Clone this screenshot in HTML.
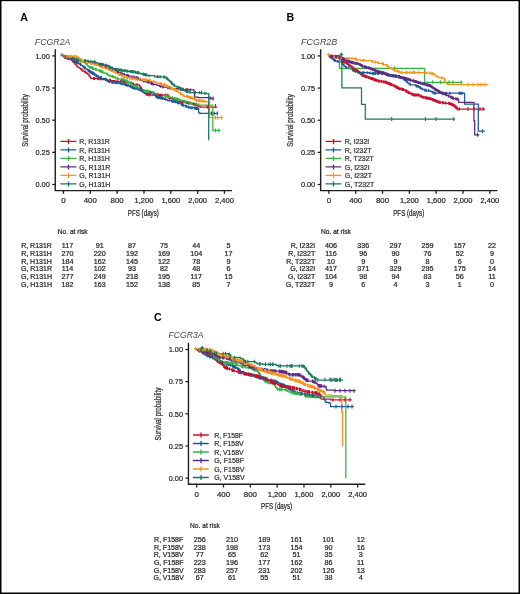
<!DOCTYPE html>
<html><head><meta charset="utf-8"><title>Survival curves</title>
<style>html,body{margin:0;padding:0;background:#fff;}svg{display:block;will-change:transform;}
text{font-family:"Liberation Sans", sans-serif;}</style></head><body>
<svg width="520" height="594" viewBox="0 0 520 594">
<g id="t" fill="#262626" stroke="none">
<rect x="0" y="0" width="520" height="594" fill="#fff"/>
<path d="M55.25 49.20V190.60H232.10" fill="none" stroke="#1e1e1e" stroke-width="1.4"/>
<path d="M52.25 184.50H55.25" stroke="#1e1e1e" stroke-width="1.25"/>
<text x="49.80" y="187.30" font-size="8.0" text-anchor="end" stroke="#262626" stroke-width="0.22" textLength="14.3" lengthAdjust="spacingAndGlyphs">0.00</text>
<path d="M52.25 152.35H55.25" stroke="#1e1e1e" stroke-width="1.25"/>
<text x="49.80" y="155.15" font-size="8.0" text-anchor="end" stroke="#262626" stroke-width="0.22" textLength="14.3" lengthAdjust="spacingAndGlyphs">0.25</text>
<path d="M52.25 120.20H55.25" stroke="#1e1e1e" stroke-width="1.25"/>
<text x="49.80" y="123.00" font-size="8.0" text-anchor="end" stroke="#262626" stroke-width="0.22" textLength="14.3" lengthAdjust="spacingAndGlyphs">0.50</text>
<path d="M52.25 88.05H55.25" stroke="#1e1e1e" stroke-width="1.25"/>
<text x="49.80" y="90.85" font-size="8.0" text-anchor="end" stroke="#262626" stroke-width="0.22" textLength="14.3" lengthAdjust="spacingAndGlyphs">0.75</text>
<path d="M52.25 55.90H55.25" stroke="#1e1e1e" stroke-width="1.25"/>
<text x="49.80" y="58.70" font-size="8.0" text-anchor="end" stroke="#262626" stroke-width="0.22" textLength="14.3" lengthAdjust="spacingAndGlyphs">1.00</text>
<path d="M63.45 190.60V193.80" stroke="#1e1e1e" stroke-width="1.3"/>
<text x="63.45" y="202.90" font-size="8.0" text-anchor="middle" stroke="#262626" stroke-width="0.22" textLength="4.4" lengthAdjust="spacingAndGlyphs">0</text>
<path d="M90.28 190.60V193.80" stroke="#1e1e1e" stroke-width="1.3"/>
<text x="90.28" y="202.90" font-size="8.0" text-anchor="middle" stroke="#262626" stroke-width="0.22" textLength="13.1" lengthAdjust="spacingAndGlyphs">400</text>
<path d="M117.12 190.60V193.80" stroke="#1e1e1e" stroke-width="1.3"/>
<text x="117.12" y="202.90" font-size="8.0" text-anchor="middle" stroke="#262626" stroke-width="0.22" textLength="13.1" lengthAdjust="spacingAndGlyphs">800</text>
<path d="M143.95 190.60V193.80" stroke="#1e1e1e" stroke-width="1.3"/>
<text x="143.95" y="202.90" font-size="8.0" text-anchor="middle" stroke="#262626" stroke-width="0.22" textLength="18.8" lengthAdjust="spacingAndGlyphs">1,200</text>
<path d="M170.78 190.60V193.80" stroke="#1e1e1e" stroke-width="1.3"/>
<text x="170.78" y="202.90" font-size="8.0" text-anchor="middle" stroke="#262626" stroke-width="0.22" textLength="18.8" lengthAdjust="spacingAndGlyphs">1,600</text>
<path d="M197.62 190.60V193.80" stroke="#1e1e1e" stroke-width="1.3"/>
<text x="197.62" y="202.90" font-size="8.0" text-anchor="middle" stroke="#262626" stroke-width="0.22" textLength="18.8" lengthAdjust="spacingAndGlyphs">2,000</text>
<path d="M224.45 190.60V193.80" stroke="#1e1e1e" stroke-width="1.3"/>
<text x="224.45" y="202.90" font-size="8.0" text-anchor="middle" stroke="#262626" stroke-width="0.22" textLength="18.8" lengthAdjust="spacingAndGlyphs">2,400</text>
<text x="20.30" y="20.90" font-size="10.6" text-anchor="start" font-weight="bold" fill="#000">A</text>
<text x="34.80" y="44.70" font-size="9.6" text-anchor="start" font-style="italic" fill="#474747" textLength="35.6" lengthAdjust="spacingAndGlyphs">FCGR2A</text>
<text x="0" y="0" stroke="#262626" stroke-width="0.22" font-size="9.4" text-anchor="middle" textLength="52.8" lengthAdjust="spacingAndGlyphs" transform="translate(28.00,120.40) rotate(-90)">Survival probability</text>
<text x="127.80" y="215.70" font-size="8.6" text-anchor="start" stroke="#262626" stroke-width="0.22" textLength="31.1" lengthAdjust="spacingAndGlyphs">PFS (days)</text>
<path d="M60.40 141.40H76.40M68.50 138.90V143.90" stroke="#c8102e" stroke-width="1.35"/>
<text x="79.20" y="144.15" font-size="7.0" text-anchor="start" stroke="#333" stroke-width="0.22" fill="#333">R, R131R</text>
<path d="M60.40 149.90H76.40M68.50 147.40V152.40" stroke="#1c5a96" stroke-width="1.35"/>
<text x="79.20" y="152.65" font-size="7.0" text-anchor="start" stroke="#333" stroke-width="0.22" fill="#333">R, R131H</text>
<path d="M60.40 158.40H76.40M68.50 155.90V160.90" stroke="#35b53f" stroke-width="1.35"/>
<text x="79.20" y="161.15" font-size="7.0" text-anchor="start" stroke="#333" stroke-width="0.22" fill="#333">R, H131H</text>
<path d="M60.40 166.90H76.40M68.50 164.40V169.40" stroke="#5e2a84" stroke-width="1.35"/>
<text x="79.20" y="169.65" font-size="7.0" text-anchor="start" stroke="#333" stroke-width="0.22" fill="#333">G, R131R</text>
<path d="M60.40 175.40H76.40M68.50 172.90V177.90" stroke="#f7941d" stroke-width="1.35"/>
<text x="79.20" y="178.15" font-size="7.0" text-anchor="start" stroke="#333" stroke-width="0.22" fill="#333">G, R131H</text>
<path d="M60.40 183.90H76.40M68.50 181.40V186.40" stroke="#177a5c" stroke-width="1.35"/>
<text x="79.20" y="186.65" font-size="7.0" text-anchor="start" stroke="#333" stroke-width="0.22" fill="#333">G, H131H</text>
<path d="M320.65 49.20V190.60H497.50" fill="none" stroke="#1e1e1e" stroke-width="1.4"/>
<path d="M317.65 184.50H320.65" stroke="#1e1e1e" stroke-width="1.25"/>
<text x="315.20" y="187.30" font-size="8.0" text-anchor="end" stroke="#262626" stroke-width="0.22" textLength="14.3" lengthAdjust="spacingAndGlyphs">0.00</text>
<path d="M317.65 152.35H320.65" stroke="#1e1e1e" stroke-width="1.25"/>
<text x="315.20" y="155.15" font-size="8.0" text-anchor="end" stroke="#262626" stroke-width="0.22" textLength="14.3" lengthAdjust="spacingAndGlyphs">0.25</text>
<path d="M317.65 120.20H320.65" stroke="#1e1e1e" stroke-width="1.25"/>
<text x="315.20" y="123.00" font-size="8.0" text-anchor="end" stroke="#262626" stroke-width="0.22" textLength="14.3" lengthAdjust="spacingAndGlyphs">0.50</text>
<path d="M317.65 88.05H320.65" stroke="#1e1e1e" stroke-width="1.25"/>
<text x="315.20" y="90.85" font-size="8.0" text-anchor="end" stroke="#262626" stroke-width="0.22" textLength="14.3" lengthAdjust="spacingAndGlyphs">0.75</text>
<path d="M317.65 55.90H320.65" stroke="#1e1e1e" stroke-width="1.25"/>
<text x="315.20" y="58.70" font-size="8.0" text-anchor="end" stroke="#262626" stroke-width="0.22" textLength="14.3" lengthAdjust="spacingAndGlyphs">1.00</text>
<path d="M328.85 190.60V193.80" stroke="#1e1e1e" stroke-width="1.3"/>
<text x="328.85" y="202.90" font-size="8.0" text-anchor="middle" stroke="#262626" stroke-width="0.22" textLength="4.4" lengthAdjust="spacingAndGlyphs">0</text>
<path d="M355.68 190.60V193.80" stroke="#1e1e1e" stroke-width="1.3"/>
<text x="355.68" y="202.90" font-size="8.0" text-anchor="middle" stroke="#262626" stroke-width="0.22" textLength="13.1" lengthAdjust="spacingAndGlyphs">400</text>
<path d="M382.52 190.60V193.80" stroke="#1e1e1e" stroke-width="1.3"/>
<text x="382.52" y="202.90" font-size="8.0" text-anchor="middle" stroke="#262626" stroke-width="0.22" textLength="13.1" lengthAdjust="spacingAndGlyphs">800</text>
<path d="M409.35 190.60V193.80" stroke="#1e1e1e" stroke-width="1.3"/>
<text x="409.35" y="202.90" font-size="8.0" text-anchor="middle" stroke="#262626" stroke-width="0.22" textLength="18.8" lengthAdjust="spacingAndGlyphs">1,200</text>
<path d="M436.18 190.60V193.80" stroke="#1e1e1e" stroke-width="1.3"/>
<text x="436.18" y="202.90" font-size="8.0" text-anchor="middle" stroke="#262626" stroke-width="0.22" textLength="18.8" lengthAdjust="spacingAndGlyphs">1,600</text>
<path d="M463.02 190.60V193.80" stroke="#1e1e1e" stroke-width="1.3"/>
<text x="463.02" y="202.90" font-size="8.0" text-anchor="middle" stroke="#262626" stroke-width="0.22" textLength="18.8" lengthAdjust="spacingAndGlyphs">2,000</text>
<path d="M489.85 190.60V193.80" stroke="#1e1e1e" stroke-width="1.3"/>
<text x="489.85" y="202.90" font-size="8.0" text-anchor="middle" stroke="#262626" stroke-width="0.22" textLength="18.8" lengthAdjust="spacingAndGlyphs">2,400</text>
<text x="286.60" y="20.80" font-size="10.6" text-anchor="start" font-weight="bold" fill="#000">B</text>
<text x="301.00" y="44.70" font-size="9.6" text-anchor="start" font-style="italic" fill="#474747" textLength="36.3" lengthAdjust="spacingAndGlyphs">FCGR2B</text>
<text x="0" y="0" stroke="#262626" stroke-width="0.22" font-size="9.4" text-anchor="middle" textLength="52.8" lengthAdjust="spacingAndGlyphs" transform="translate(293.40,120.40) rotate(-90)">Survival probability</text>
<text x="393.20" y="215.70" font-size="8.6" text-anchor="start" stroke="#262626" stroke-width="0.22" textLength="31.1" lengthAdjust="spacingAndGlyphs">PFS (days)</text>
<path d="M325.50 141.40H341.30M333.50 138.90V143.90" stroke="#c8102e" stroke-width="1.35"/>
<text x="344.80" y="144.15" font-size="7.0" text-anchor="start" stroke="#333" stroke-width="0.22" fill="#333">R, I232I</text>
<path d="M325.50 149.90H341.30M333.50 147.40V152.40" stroke="#1c5a96" stroke-width="1.35"/>
<text x="344.80" y="152.65" font-size="7.0" text-anchor="start" stroke="#333" stroke-width="0.22" fill="#333">R, I232T</text>
<path d="M325.50 158.40H341.30M333.50 155.90V160.90" stroke="#35b53f" stroke-width="1.35"/>
<text x="344.80" y="161.15" font-size="7.0" text-anchor="start" stroke="#333" stroke-width="0.22" fill="#333">R, T232T</text>
<path d="M325.50 166.90H341.30M333.50 164.40V169.40" stroke="#5e2a84" stroke-width="1.35"/>
<text x="344.80" y="169.65" font-size="7.0" text-anchor="start" stroke="#333" stroke-width="0.22" fill="#333">G, I232I</text>
<path d="M325.50 175.40H341.30M333.50 172.90V177.90" stroke="#f7941d" stroke-width="1.35"/>
<text x="344.80" y="178.15" font-size="7.0" text-anchor="start" stroke="#333" stroke-width="0.22" fill="#333">G, I232T</text>
<path d="M325.50 183.90H341.30M333.50 181.40V186.40" stroke="#177a5c" stroke-width="1.35"/>
<text x="344.80" y="186.65" font-size="7.0" text-anchor="start" stroke="#333" stroke-width="0.22" fill="#333">G, T232T</text>
<path d="M188.45 342.80V484.20H365.30" fill="none" stroke="#1e1e1e" stroke-width="1.4"/>
<path d="M185.45 478.10H188.45" stroke="#1e1e1e" stroke-width="1.25"/>
<text x="183.00" y="480.90" font-size="8.0" text-anchor="end" stroke="#262626" stroke-width="0.22" textLength="14.3" lengthAdjust="spacingAndGlyphs">0.00</text>
<path d="M185.45 445.95H188.45" stroke="#1e1e1e" stroke-width="1.25"/>
<text x="183.00" y="448.75" font-size="8.0" text-anchor="end" stroke="#262626" stroke-width="0.22" textLength="14.3" lengthAdjust="spacingAndGlyphs">0.25</text>
<path d="M185.45 413.80H188.45" stroke="#1e1e1e" stroke-width="1.25"/>
<text x="183.00" y="416.60" font-size="8.0" text-anchor="end" stroke="#262626" stroke-width="0.22" textLength="14.3" lengthAdjust="spacingAndGlyphs">0.50</text>
<path d="M185.45 381.65H188.45" stroke="#1e1e1e" stroke-width="1.25"/>
<text x="183.00" y="384.45" font-size="8.0" text-anchor="end" stroke="#262626" stroke-width="0.22" textLength="14.3" lengthAdjust="spacingAndGlyphs">0.75</text>
<path d="M185.45 349.50H188.45" stroke="#1e1e1e" stroke-width="1.25"/>
<text x="183.00" y="352.30" font-size="8.0" text-anchor="end" stroke="#262626" stroke-width="0.22" textLength="14.3" lengthAdjust="spacingAndGlyphs">1.00</text>
<path d="M196.65 484.20V487.40" stroke="#1e1e1e" stroke-width="1.3"/>
<text x="196.65" y="496.50" font-size="8.0" text-anchor="middle" stroke="#262626" stroke-width="0.22" textLength="4.4" lengthAdjust="spacingAndGlyphs">0</text>
<path d="M223.48 484.20V487.40" stroke="#1e1e1e" stroke-width="1.3"/>
<text x="223.48" y="496.50" font-size="8.0" text-anchor="middle" stroke="#262626" stroke-width="0.22" textLength="13.1" lengthAdjust="spacingAndGlyphs">400</text>
<path d="M250.32 484.20V487.40" stroke="#1e1e1e" stroke-width="1.3"/>
<text x="250.32" y="496.50" font-size="8.0" text-anchor="middle" stroke="#262626" stroke-width="0.22" textLength="13.1" lengthAdjust="spacingAndGlyphs">800</text>
<path d="M277.15 484.20V487.40" stroke="#1e1e1e" stroke-width="1.3"/>
<text x="277.15" y="496.50" font-size="8.0" text-anchor="middle" stroke="#262626" stroke-width="0.22" textLength="18.8" lengthAdjust="spacingAndGlyphs">1,200</text>
<path d="M303.98 484.20V487.40" stroke="#1e1e1e" stroke-width="1.3"/>
<text x="303.98" y="496.50" font-size="8.0" text-anchor="middle" stroke="#262626" stroke-width="0.22" textLength="18.8" lengthAdjust="spacingAndGlyphs">1,600</text>
<path d="M330.82 484.20V487.40" stroke="#1e1e1e" stroke-width="1.3"/>
<text x="330.82" y="496.50" font-size="8.0" text-anchor="middle" stroke="#262626" stroke-width="0.22" textLength="18.8" lengthAdjust="spacingAndGlyphs">2,000</text>
<path d="M357.65 484.20V487.40" stroke="#1e1e1e" stroke-width="1.3"/>
<text x="357.65" y="496.50" font-size="8.0" text-anchor="middle" stroke="#262626" stroke-width="0.22" textLength="18.8" lengthAdjust="spacingAndGlyphs">2,400</text>
<text x="154.00" y="321.30" font-size="10.6" text-anchor="start" font-weight="bold" fill="#000">C</text>
<text x="168.60" y="338.30" font-size="9.6" text-anchor="start" font-style="italic" fill="#474747" textLength="34.9" lengthAdjust="spacingAndGlyphs">FCGR3A</text>
<text x="0" y="0" stroke="#262626" stroke-width="0.22" font-size="9.4" text-anchor="middle" textLength="52.8" lengthAdjust="spacingAndGlyphs" transform="translate(161.20,414.00) rotate(-90)">Survival probability</text>
<text x="261.00" y="509.30" font-size="8.6" text-anchor="start" stroke="#262626" stroke-width="0.22" textLength="31.1" lengthAdjust="spacingAndGlyphs">PFS (days)</text>
<path d="M192.90 435.00H208.80M201.00 432.50V437.50" stroke="#c8102e" stroke-width="1.35"/>
<text x="214.30" y="437.75" font-size="7.0" text-anchor="start" stroke="#333" stroke-width="0.22" fill="#333" textLength="28.8" lengthAdjust="spacingAndGlyphs">R, F158F</text>
<path d="M192.90 443.50H208.80M201.00 441.00V446.00" stroke="#1c5a96" stroke-width="1.35"/>
<text x="214.30" y="446.25" font-size="7.0" text-anchor="start" stroke="#333" stroke-width="0.22" fill="#333" textLength="29.4" lengthAdjust="spacingAndGlyphs">R, F158V</text>
<path d="M192.90 452.00H208.80M201.00 449.50V454.50" stroke="#35b53f" stroke-width="1.35"/>
<text x="214.30" y="454.75" font-size="7.0" text-anchor="start" stroke="#333" stroke-width="0.22" fill="#333" textLength="29.3" lengthAdjust="spacingAndGlyphs">R, V158V</text>
<path d="M192.90 460.50H208.80M201.00 458.00V463.00" stroke="#5e2a84" stroke-width="1.35"/>
<text x="214.30" y="463.25" font-size="7.0" text-anchor="start" stroke="#333" stroke-width="0.22" fill="#333" textLength="29.8" lengthAdjust="spacingAndGlyphs">G, F158F</text>
<path d="M192.90 469.00H208.80M201.00 466.50V471.50" stroke="#f7941d" stroke-width="1.35"/>
<text x="214.30" y="471.75" font-size="7.0" text-anchor="start" stroke="#333" stroke-width="0.22" fill="#333" textLength="30.1" lengthAdjust="spacingAndGlyphs">G, F158V</text>
<path d="M192.90 477.50H208.80M201.00 475.00V480.00" stroke="#177a5c" stroke-width="1.35"/>
<text x="214.30" y="480.25" font-size="7.0" text-anchor="start" stroke="#333" stroke-width="0.22" fill="#333" textLength="30.3" lengthAdjust="spacingAndGlyphs">G, V158V</text>
<text x="57.80" y="234.20" font-size="7.0" text-anchor="start" stroke="#262626" stroke-width="0.22" textLength="29.8" lengthAdjust="spacingAndGlyphs">No. at risk</text>
<text x="36.50" y="248.40" font-size="7.0" text-anchor="middle" stroke="#262626" stroke-width="0.22">R, R131R</text>
<text x="67.50" y="248.40" font-size="7.2" text-anchor="middle" stroke="#262626" stroke-width="0.22">117</text>
<text x="99.70" y="248.40" font-size="7.2" text-anchor="middle" stroke="#262626" stroke-width="0.22">91</text>
<text x="131.90" y="248.40" font-size="7.2" text-anchor="middle" stroke="#262626" stroke-width="0.22">87</text>
<text x="164.10" y="248.40" font-size="7.2" text-anchor="middle" stroke="#262626" stroke-width="0.22">75</text>
<text x="196.30" y="248.40" font-size="7.2" text-anchor="middle" stroke="#262626" stroke-width="0.22">44</text>
<text x="228.50" y="248.40" font-size="7.2" text-anchor="middle" stroke="#262626" stroke-width="0.22">5</text>
<text x="36.50" y="256.06" font-size="7.0" text-anchor="middle" stroke="#262626" stroke-width="0.22">R, R131H</text>
<text x="67.50" y="256.06" font-size="7.2" text-anchor="middle" stroke="#262626" stroke-width="0.22">270</text>
<text x="99.70" y="256.06" font-size="7.2" text-anchor="middle" stroke="#262626" stroke-width="0.22">220</text>
<text x="131.90" y="256.06" font-size="7.2" text-anchor="middle" stroke="#262626" stroke-width="0.22">192</text>
<text x="164.10" y="256.06" font-size="7.2" text-anchor="middle" stroke="#262626" stroke-width="0.22">169</text>
<text x="196.30" y="256.06" font-size="7.2" text-anchor="middle" stroke="#262626" stroke-width="0.22">104</text>
<text x="228.50" y="256.06" font-size="7.2" text-anchor="middle" stroke="#262626" stroke-width="0.22">17</text>
<text x="36.50" y="263.72" font-size="7.0" text-anchor="middle" stroke="#262626" stroke-width="0.22">R, H131H</text>
<text x="67.50" y="263.72" font-size="7.2" text-anchor="middle" stroke="#262626" stroke-width="0.22">184</text>
<text x="99.70" y="263.72" font-size="7.2" text-anchor="middle" stroke="#262626" stroke-width="0.22">162</text>
<text x="131.90" y="263.72" font-size="7.2" text-anchor="middle" stroke="#262626" stroke-width="0.22">145</text>
<text x="164.10" y="263.72" font-size="7.2" text-anchor="middle" stroke="#262626" stroke-width="0.22">122</text>
<text x="196.30" y="263.72" font-size="7.2" text-anchor="middle" stroke="#262626" stroke-width="0.22">78</text>
<text x="228.50" y="263.72" font-size="7.2" text-anchor="middle" stroke="#262626" stroke-width="0.22">9</text>
<text x="36.50" y="271.38" font-size="7.0" text-anchor="middle" stroke="#262626" stroke-width="0.22">G, R131R</text>
<text x="67.50" y="271.38" font-size="7.2" text-anchor="middle" stroke="#262626" stroke-width="0.22">114</text>
<text x="99.70" y="271.38" font-size="7.2" text-anchor="middle" stroke="#262626" stroke-width="0.22">102</text>
<text x="131.90" y="271.38" font-size="7.2" text-anchor="middle" stroke="#262626" stroke-width="0.22">93</text>
<text x="164.10" y="271.38" font-size="7.2" text-anchor="middle" stroke="#262626" stroke-width="0.22">82</text>
<text x="196.30" y="271.38" font-size="7.2" text-anchor="middle" stroke="#262626" stroke-width="0.22">48</text>
<text x="228.50" y="271.38" font-size="7.2" text-anchor="middle" stroke="#262626" stroke-width="0.22">6</text>
<text x="36.50" y="279.04" font-size="7.0" text-anchor="middle" stroke="#262626" stroke-width="0.22">G, R131H</text>
<text x="67.50" y="279.04" font-size="7.2" text-anchor="middle" stroke="#262626" stroke-width="0.22">277</text>
<text x="99.70" y="279.04" font-size="7.2" text-anchor="middle" stroke="#262626" stroke-width="0.22">249</text>
<text x="131.90" y="279.04" font-size="7.2" text-anchor="middle" stroke="#262626" stroke-width="0.22">218</text>
<text x="164.10" y="279.04" font-size="7.2" text-anchor="middle" stroke="#262626" stroke-width="0.22">195</text>
<text x="196.30" y="279.04" font-size="7.2" text-anchor="middle" stroke="#262626" stroke-width="0.22">117</text>
<text x="228.50" y="279.04" font-size="7.2" text-anchor="middle" stroke="#262626" stroke-width="0.22">15</text>
<text x="36.50" y="286.70" font-size="7.0" text-anchor="middle" stroke="#262626" stroke-width="0.22">G, H131H</text>
<text x="67.50" y="286.70" font-size="7.2" text-anchor="middle" stroke="#262626" stroke-width="0.22">182</text>
<text x="99.70" y="286.70" font-size="7.2" text-anchor="middle" stroke="#262626" stroke-width="0.22">163</text>
<text x="131.90" y="286.70" font-size="7.2" text-anchor="middle" stroke="#262626" stroke-width="0.22">152</text>
<text x="164.10" y="286.70" font-size="7.2" text-anchor="middle" stroke="#262626" stroke-width="0.22">138</text>
<text x="196.30" y="286.70" font-size="7.2" text-anchor="middle" stroke="#262626" stroke-width="0.22">85</text>
<text x="228.50" y="286.70" font-size="7.2" text-anchor="middle" stroke="#262626" stroke-width="0.22">7</text>
<text x="321.00" y="234.20" font-size="7.0" text-anchor="start" stroke="#262626" stroke-width="0.22" textLength="29.8" lengthAdjust="spacingAndGlyphs">No. at risk</text>
<text x="315.20" y="248.40" font-size="7.0" text-anchor="end" stroke="#262626" stroke-width="0.22">R, I232I</text>
<text x="331.00" y="248.40" font-size="7.2" text-anchor="middle" stroke="#262626" stroke-width="0.22">406</text>
<text x="363.20" y="248.40" font-size="7.2" text-anchor="middle" stroke="#262626" stroke-width="0.22">336</text>
<text x="395.40" y="248.40" font-size="7.2" text-anchor="middle" stroke="#262626" stroke-width="0.22">297</text>
<text x="427.60" y="248.40" font-size="7.2" text-anchor="middle" stroke="#262626" stroke-width="0.22">259</text>
<text x="459.80" y="248.40" font-size="7.2" text-anchor="middle" stroke="#262626" stroke-width="0.22">157</text>
<text x="492.00" y="248.40" font-size="7.2" text-anchor="middle" stroke="#262626" stroke-width="0.22">22</text>
<text x="315.20" y="256.06" font-size="7.0" text-anchor="end" stroke="#262626" stroke-width="0.22">R, I232T</text>
<text x="331.00" y="256.06" font-size="7.2" text-anchor="middle" stroke="#262626" stroke-width="0.22">116</text>
<text x="363.20" y="256.06" font-size="7.2" text-anchor="middle" stroke="#262626" stroke-width="0.22">96</text>
<text x="395.40" y="256.06" font-size="7.2" text-anchor="middle" stroke="#262626" stroke-width="0.22">90</text>
<text x="427.60" y="256.06" font-size="7.2" text-anchor="middle" stroke="#262626" stroke-width="0.22">76</text>
<text x="459.80" y="256.06" font-size="7.2" text-anchor="middle" stroke="#262626" stroke-width="0.22">52</text>
<text x="492.00" y="256.06" font-size="7.2" text-anchor="middle" stroke="#262626" stroke-width="0.22">9</text>
<text x="315.20" y="263.72" font-size="7.0" text-anchor="end" stroke="#262626" stroke-width="0.22">R, T232T</text>
<text x="331.00" y="263.72" font-size="7.2" text-anchor="middle" stroke="#262626" stroke-width="0.22">10</text>
<text x="363.20" y="263.72" font-size="7.2" text-anchor="middle" stroke="#262626" stroke-width="0.22">9</text>
<text x="395.40" y="263.72" font-size="7.2" text-anchor="middle" stroke="#262626" stroke-width="0.22">9</text>
<text x="427.60" y="263.72" font-size="7.2" text-anchor="middle" stroke="#262626" stroke-width="0.22">8</text>
<text x="459.80" y="263.72" font-size="7.2" text-anchor="middle" stroke="#262626" stroke-width="0.22">6</text>
<text x="492.00" y="263.72" font-size="7.2" text-anchor="middle" stroke="#262626" stroke-width="0.22">0</text>
<text x="315.20" y="271.38" font-size="7.0" text-anchor="end" stroke="#262626" stroke-width="0.22">G, I232I</text>
<text x="331.00" y="271.38" font-size="7.2" text-anchor="middle" stroke="#262626" stroke-width="0.22">417</text>
<text x="363.20" y="271.38" font-size="7.2" text-anchor="middle" stroke="#262626" stroke-width="0.22">371</text>
<text x="395.40" y="271.38" font-size="7.2" text-anchor="middle" stroke="#262626" stroke-width="0.22">329</text>
<text x="427.60" y="271.38" font-size="7.2" text-anchor="middle" stroke="#262626" stroke-width="0.22">295</text>
<text x="459.80" y="271.38" font-size="7.2" text-anchor="middle" stroke="#262626" stroke-width="0.22">175</text>
<text x="492.00" y="271.38" font-size="7.2" text-anchor="middle" stroke="#262626" stroke-width="0.22">14</text>
<text x="315.20" y="279.04" font-size="7.0" text-anchor="end" stroke="#262626" stroke-width="0.22">G, I232T</text>
<text x="331.00" y="279.04" font-size="7.2" text-anchor="middle" stroke="#262626" stroke-width="0.22">104</text>
<text x="363.20" y="279.04" font-size="7.2" text-anchor="middle" stroke="#262626" stroke-width="0.22">98</text>
<text x="395.40" y="279.04" font-size="7.2" text-anchor="middle" stroke="#262626" stroke-width="0.22">94</text>
<text x="427.60" y="279.04" font-size="7.2" text-anchor="middle" stroke="#262626" stroke-width="0.22">83</text>
<text x="459.80" y="279.04" font-size="7.2" text-anchor="middle" stroke="#262626" stroke-width="0.22">56</text>
<text x="492.00" y="279.04" font-size="7.2" text-anchor="middle" stroke="#262626" stroke-width="0.22">11</text>
<text x="315.20" y="286.70" font-size="7.0" text-anchor="end" stroke="#262626" stroke-width="0.22">G, T232T</text>
<text x="331.00" y="286.70" font-size="7.2" text-anchor="middle" stroke="#262626" stroke-width="0.22">9</text>
<text x="363.20" y="286.70" font-size="7.2" text-anchor="middle" stroke="#262626" stroke-width="0.22">6</text>
<text x="395.40" y="286.70" font-size="7.2" text-anchor="middle" stroke="#262626" stroke-width="0.22">4</text>
<text x="427.60" y="286.70" font-size="7.2" text-anchor="middle" stroke="#262626" stroke-width="0.22">3</text>
<text x="459.80" y="286.70" font-size="7.2" text-anchor="middle" stroke="#262626" stroke-width="0.22">1</text>
<text x="492.00" y="286.70" font-size="7.2" text-anchor="middle" stroke="#262626" stroke-width="0.22">0</text>
<text x="190.10" y="527.80" font-size="7.0" text-anchor="start" stroke="#262626" stroke-width="0.22" textLength="29.8" lengthAdjust="spacingAndGlyphs">No. at risk</text>
<text x="168.70" y="542.00" font-size="7.0" text-anchor="middle" stroke="#262626" stroke-width="0.22">R, F158F</text>
<text x="199.80" y="542.00" font-size="7.2" text-anchor="middle" stroke="#262626" stroke-width="0.22">256</text>
<text x="232.00" y="542.00" font-size="7.2" text-anchor="middle" stroke="#262626" stroke-width="0.22">210</text>
<text x="264.20" y="542.00" font-size="7.2" text-anchor="middle" stroke="#262626" stroke-width="0.22">189</text>
<text x="296.40" y="542.00" font-size="7.2" text-anchor="middle" stroke="#262626" stroke-width="0.22">161</text>
<text x="328.60" y="542.00" font-size="7.2" text-anchor="middle" stroke="#262626" stroke-width="0.22">101</text>
<text x="360.80" y="542.00" font-size="7.2" text-anchor="middle" stroke="#262626" stroke-width="0.22">12</text>
<text x="168.70" y="549.66" font-size="7.0" text-anchor="middle" stroke="#262626" stroke-width="0.22">R, F158V</text>
<text x="199.80" y="549.66" font-size="7.2" text-anchor="middle" stroke="#262626" stroke-width="0.22">238</text>
<text x="232.00" y="549.66" font-size="7.2" text-anchor="middle" stroke="#262626" stroke-width="0.22">198</text>
<text x="264.20" y="549.66" font-size="7.2" text-anchor="middle" stroke="#262626" stroke-width="0.22">173</text>
<text x="296.40" y="549.66" font-size="7.2" text-anchor="middle" stroke="#262626" stroke-width="0.22">154</text>
<text x="328.60" y="549.66" font-size="7.2" text-anchor="middle" stroke="#262626" stroke-width="0.22">90</text>
<text x="360.80" y="549.66" font-size="7.2" text-anchor="middle" stroke="#262626" stroke-width="0.22">16</text>
<text x="168.70" y="557.32" font-size="7.0" text-anchor="middle" stroke="#262626" stroke-width="0.22">R, V158V</text>
<text x="199.80" y="557.32" font-size="7.2" text-anchor="middle" stroke="#262626" stroke-width="0.22">77</text>
<text x="232.00" y="557.32" font-size="7.2" text-anchor="middle" stroke="#262626" stroke-width="0.22">65</text>
<text x="264.20" y="557.32" font-size="7.2" text-anchor="middle" stroke="#262626" stroke-width="0.22">62</text>
<text x="296.40" y="557.32" font-size="7.2" text-anchor="middle" stroke="#262626" stroke-width="0.22">51</text>
<text x="328.60" y="557.32" font-size="7.2" text-anchor="middle" stroke="#262626" stroke-width="0.22">35</text>
<text x="360.80" y="557.32" font-size="7.2" text-anchor="middle" stroke="#262626" stroke-width="0.22">3</text>
<text x="168.70" y="564.98" font-size="7.0" text-anchor="middle" stroke="#262626" stroke-width="0.22">G, F158F</text>
<text x="199.80" y="564.98" font-size="7.2" text-anchor="middle" stroke="#262626" stroke-width="0.22">223</text>
<text x="232.00" y="564.98" font-size="7.2" text-anchor="middle" stroke="#262626" stroke-width="0.22">196</text>
<text x="264.20" y="564.98" font-size="7.2" text-anchor="middle" stroke="#262626" stroke-width="0.22">177</text>
<text x="296.40" y="564.98" font-size="7.2" text-anchor="middle" stroke="#262626" stroke-width="0.22">162</text>
<text x="328.60" y="564.98" font-size="7.2" text-anchor="middle" stroke="#262626" stroke-width="0.22">86</text>
<text x="360.80" y="564.98" font-size="7.2" text-anchor="middle" stroke="#262626" stroke-width="0.22">11</text>
<text x="168.70" y="572.64" font-size="7.0" text-anchor="middle" stroke="#262626" stroke-width="0.22">G, F158V</text>
<text x="199.80" y="572.64" font-size="7.2" text-anchor="middle" stroke="#262626" stroke-width="0.22">283</text>
<text x="232.00" y="572.64" font-size="7.2" text-anchor="middle" stroke="#262626" stroke-width="0.22">257</text>
<text x="264.20" y="572.64" font-size="7.2" text-anchor="middle" stroke="#262626" stroke-width="0.22">231</text>
<text x="296.40" y="572.64" font-size="7.2" text-anchor="middle" stroke="#262626" stroke-width="0.22">202</text>
<text x="328.60" y="572.64" font-size="7.2" text-anchor="middle" stroke="#262626" stroke-width="0.22">126</text>
<text x="360.80" y="572.64" font-size="7.2" text-anchor="middle" stroke="#262626" stroke-width="0.22">13</text>
<text x="168.70" y="580.30" font-size="7.0" text-anchor="middle" stroke="#262626" stroke-width="0.22">G, V158V</text>
<text x="199.80" y="580.30" font-size="7.2" text-anchor="middle" stroke="#262626" stroke-width="0.22">67</text>
<text x="232.00" y="580.30" font-size="7.2" text-anchor="middle" stroke="#262626" stroke-width="0.22">61</text>
<text x="264.20" y="580.30" font-size="7.2" text-anchor="middle" stroke="#262626" stroke-width="0.22">55</text>
<text x="296.40" y="580.30" font-size="7.2" text-anchor="middle" stroke="#262626" stroke-width="0.22">51</text>
<text x="328.60" y="580.30" font-size="7.2" text-anchor="middle" stroke="#262626" stroke-width="0.22">38</text>
<text x="360.80" y="580.30" font-size="7.2" text-anchor="middle" stroke="#262626" stroke-width="0.22">4</text>
<path d="M63.40 56.20H63.83V57.20H64.50H65.37V58.20H67.50H69.74V59.10H71.30H71.48V59.95H72.40V60.80H73.05V61.65H73.65V62.50H74.20H74.58V63.45H75.12V64.40H75.70H76.14V65.35H76.88V66.30H77.60H77.89V67.27H79.25V68.23H80.66V69.20H81.00H81.38V70.20H82.87V71.20H83.80H84.55V72.00H86.10V72.80H87.11V73.60H87.70H87.96V74.42H88.77V75.25H89.04V76.08H89.93V76.90H90.10H90.60V78.40H93.50H96.30H97.76V78.80H100.20H101.80V79.50H105.80H107.34V80.50H111.50H114.77V81.50H120.00H124.00V82.00H125.80H126.97V82.50H129.60H130.92V83.45H133.40V84.40H134.40H136.43V84.90H139.20H139.46V85.70H139.82V86.50H140.32V87.30H140.70H140.86V88.26H141.47V89.22H141.88V90.18H142.33V91.14H142.88V92.10H143.10H143.70V92.90H144.85V93.70H146.49V94.50H146.90H149.87V95.20H151.70H156.50H163.30H168.10H168.20V96.03H168.56V96.87H168.85V97.70H169.00H170.76V98.65H172.97V99.60H174.75V100.55H178.19V101.50H178.70H180.76V102.50H186.30H188.51V103.50H191.20H193.69V104.40H195.00H195.67V105.50H198.43V106.60H199.60H200.47V107.10H203.50H210.00H217.00" fill="none" stroke="#c8102e" stroke-width="1.25"/>
<path d="M63.40 56.20H64.96V57.00H66.00H67.38V57.87H69.24V58.73H71.72V59.60H72.30H72.86V60.55H74.64V61.50H75.20H76.26V62.50H78.14V63.50H79.00H79.62V64.43H81.22V65.37H82.60V66.30H82.90H83.51V67.27H84.92V68.23H85.73V69.20H86.70H87.51V70.17H88.76V71.13H90.33V72.10H90.60H91.92V73.05H93.20V74.00H94.40H94.82V74.80H95.95V75.60H96.54V76.40H97.30H98.68V77.40H100.20H101.58V78.60H104.80H105.12V79.42H106.28V80.25H107.99V81.08H108.73V81.90H109.60H112.95V82.90H119.20H120.42V83.65H124.02V84.40H124.80H125.40V85.15H128.33V85.90H129.60H130.45V86.70H132.37V87.50H133.91V88.30H134.40H137.85V89.20H139.20H139.79V90.00H141.52V90.80H143.06V91.60H144.00H147.51V92.60H148.80H151.70H152.82V93.30H153.57V94.00H154.60H154.79V94.97H155.45V95.93H156.08V96.90H156.50H158.17V97.65H161.78V98.40H163.30H164.50V99.45H167.33V100.50H170.00H171.74V101.50H175.47V102.50H177.70H178.74V103.47H181.13V104.43H182.75V105.40H183.50H185.21V106.50H188.76V107.60H190.20H195.35V108.60H198.70H198.70V112.90H200.02V113.40H204.40H218.10" fill="none" stroke="#1c5a96" stroke-width="1.25"/>
<path d="M63.40 56.20H65.59V57.03H68.35V57.87H71.48V58.70H72.30H74.27V59.65H76.46V60.60H78.10H80.21V61.50H82.90H83.23V62.30H84.90V63.10H85.73V63.90H86.70H86.86V64.87H87.58V65.83H88.23V66.80H88.70H89.67V67.55H91.66V68.30H93.50H93.98V69.25H96.60V70.20H98.30H99.02V71.25H102.20V72.30H103.80H104.11V73.15H106.30V74.00H107.52V74.85H108.57V75.70H109.60H110.44V76.40H112.98V77.10H114.40H115.57V78.10H117.97V79.10H120.00H123.40V80.10H124.80H126.07V80.90H127.17V81.70H128.78V82.50H129.60H130.00V83.47H131.62V84.43H133.45V85.40H134.40H134.97V86.37H137.12V87.33H138.07V88.30H139.20H139.54V89.10H142.03V89.90H143.23V90.70H144.00H145.96V91.90H150.80H152.30V92.85H154.27V93.80H156.50H158.00V94.55H161.68V95.30H162.30H164.71V96.00H167.72V96.70H169.00H169.86V97.45H172.41V98.20H173.80H174.54V98.90H177.87V99.60H178.70H179.95V100.30H182.70V101.00H183.50H184.45V101.75H186.70V102.50H188.30H190.53V103.35H194.12V104.20H194.80H198.22V105.20H199.60H212.80H212.80V130.40H220.40" fill="none" stroke="#35b53f" stroke-width="1.25"/>
<path d="M63.40 56.20H64.22V56.70H64.60H66.91V57.70H70.11V58.70H71.30H72.16V59.63H75.18V60.57H77.49V61.50H79.00H86.70H88.18V62.00H93.50H94.02V62.95H96.78V63.90H98.30H100.00H102.38V65.10H106.70H107.68V65.90H109.54V66.70H110.65V67.50H111.50H112.48V68.33H113.80V69.17H115.06V70.00H115.89V70.83H117.06V71.67H118.35V72.50H119.20H119.79V73.27H121.67V74.03H124.01V74.80H124.80H126.58V75.50H128.89V76.20H129.60H131.94V77.20H134.40H135.82V77.95H138.43V78.70H139.20H139.60V79.50H141.75V80.30H143.59V81.10H144.00H147.21V82.00H148.80H149.86V82.80H151.23V83.60H152.57V84.40H153.70H156.93V85.40H158.50H159.46V86.25H162.53V87.10H163.30H167.88V87.80H171.71V88.50H175.00H180.42V89.80H187.30H193.80H193.90V90.70H194.00V91.60H194.09V92.50H194.21V93.40H194.34V94.30H194.52V95.20H194.64V96.10H194.71V97.00H194.80H198.14V97.50H199.60H210.95V98.50H214.00" fill="none" stroke="#5e2a84" stroke-width="1.25"/>
<path d="M63.40 56.20H63.70H68.50H75.20H76.15V57.10H77.46V57.90H79.25V58.70H80.00H80.27V59.63H81.17V60.57H82.69V61.50H82.90H85.73V62.50H87.70H89.20V63.20H92.80V63.90H93.50H94.60V64.65H97.64V65.40H98.30H99.48V66.50H100.00H100.95V67.25H103.92V68.00H105.80H106.51V68.80H108.35V69.60H110.65V70.40H111.50H112.07V71.20H113.82V72.00H115.15V72.80H116.30H117.47V73.60H118.51V74.40H120.18V75.20H121.00H122.08V76.00H124.43V76.80H125.82V77.60H126.90H130.50V78.60H131.70H135.11V79.50H138.50H143.85V80.00H148.80H150.06V81.00H151.77V82.00H153.70H155.93V83.30H158.50H160.27V84.50H164.20H164.49V85.35H166.64V86.20H167.10H167.69V87.15H169.99V88.10H171.00H172.52V89.05H174.68V90.00H175.80H176.30V90.97H177.71V91.93H179.01V92.90H179.60H180.47V93.77H181.24V94.63H182.90V95.50H183.50H184.34V96.25H186.78V97.00H188.30H190.12V97.75H192.44V98.50H193.80H194.34V99.45H195.46V100.40H195.80H202.23V101.30H204.40H206.82V101.80H209.60H209.60V117.70H223.00" fill="none" stroke="#f7941d" stroke-width="1.25"/>
<path d="M63.40 56.20H65.93V57.20H70.09V58.20H72.30H74.09V59.00H78.01V59.80H81.03V60.60H82.90H88.41V61.50H93.50H94.67V62.50H97.74V63.50H98.30H99.35V64.60H100.00H101.86V65.40H104.53V66.20H106.05V67.00H107.70H108.99V67.95H111.94V68.90H112.50H117.78V70.00H120.00H121.35V70.70H126.11V71.40H129.60H131.83V71.90H134.40H135.57V72.90H139.20H140.03V73.60H142.19V74.30H144.00H146.89V75.60H148.80H154.63V76.80H157.50H165.20H165.91V77.80H166.45V78.60H167.74V79.40H168.10H168.68V80.37H169.34V81.33H170.74V82.30H171.00H171.73V83.27H172.24V84.23H173.59V85.20H173.80H174.52V86.00H176.24V86.80H178.36V87.60H178.70H179.82V88.40H180.78V89.20H182.63V90.00H183.50H184.47V90.95H186.17V91.90H187.30H189.74V92.50H195.00H199.60H200.34V93.20H201.50H206.06V93.70H208.70H208.70V138.50" fill="none" stroke="#177a5c" stroke-width="1.25"/>
<path d="M64.94 55.85v3.0M66.74 56.45v3.0M68.03 56.83v3.0M68.07 56.83v3.0M68.96 57.05v3.0M71.14 57.56v3.0M72.73 59.28v3.0M72.88 59.45v3.0M82.23 68.58v3.0M85.68 70.85v3.0M93.60 76.90v3.0M93.84 76.90v3.0M94.53 76.90v3.0M94.62 76.90v3.0M97.97 77.07v3.0M98.68 77.14v3.0M98.98 77.18v3.0M100.20 77.30v3.0M105.59 77.97v3.0M109.39 78.63v3.0M110.05 78.75v3.0M110.41 78.81v3.0M116.00 79.53v3.0M117.88 79.75v3.0M120.56 80.05v3.0M120.77 80.07v3.0M120.90 80.08v3.0M123.49 80.30v3.0M124.72 80.41v3.0M124.89 80.42v3.0M131.08 81.58v3.0M133.31 82.47v3.0M136.91 83.16v3.0M137.10 83.18v3.0M141.41 87.23v3.0M141.57 87.53v3.0M145.98 92.42v3.0M147.32 93.06v3.0M148.24 93.20v3.0M150.03 93.46v3.0M155.84 93.70v3.0M156.53 93.70v3.0M156.84 93.70v3.0M158.50 93.70v3.0M159.11 93.70v3.0M159.37 93.70v3.0M159.76 93.70v3.0M159.87 93.70v3.0M160.37 93.70v3.0M161.20 93.70v3.0M162.01 93.70v3.0M165.18 93.70v3.0M165.94 93.70v3.0M167.48 93.70v3.0M167.92 93.70v3.0M168.86 95.82v3.0M168.90 95.94v3.0M169.55 96.41v3.0M169.58 96.43v3.0M172.51 97.58v3.0M174.29 98.27v3.0M174.76 98.46v3.0M176.19 99.02v3.0M182.25 100.47v3.0M182.50 100.50v3.0M186.30 101.00v3.0M187.56 101.26v3.0M189.08 101.57v3.0M193.08 102.44v3.0M194.19 102.71v3.0M195.76 103.26v3.0M198.34 104.50v3.0M207.32 105.60v3.0M208.26 105.60v3.0M215.50 104.00v4" stroke="#c8102e" stroke-width="1.1"/>
<path d="M66.08 55.53v3.0M67.05 55.94v3.0M67.55 56.14v3.0M67.97 56.31v3.0M68.02 56.33v3.0M68.15 56.39v3.0M68.22 56.42v3.0M69.52 56.95v3.0M69.81 57.07v3.0M69.98 57.14v3.0M70.06 57.18v3.0M71.84 57.91v3.0M73.81 59.09v3.0M74.87 59.79v3.0M75.19 60.00v3.0M75.46 60.14v3.0M75.79 60.31v3.0M76.39 60.62v3.0M76.55 60.71v3.0M77.12 61.01v3.0M77.41 61.17v3.0M80.56 63.12v3.0M84.02 65.66v3.0M84.79 66.24v3.0M85.06 66.45v3.0M88.30 68.89v3.0M88.66 69.16v3.0M89.08 69.47v3.0M89.09 69.47v3.0M89.55 69.82v3.0M90.17 70.28v3.0M90.84 70.72v3.0M91.06 70.83v3.0M91.73 71.17v3.0M91.74 71.17v3.0M92.03 71.32v3.0M92.12 71.36v3.0M92.62 71.61v3.0M92.66 71.63v3.0M92.68 71.64v3.0M93.03 71.81v3.0M93.28 71.94v3.0M94.13 72.37v3.0M94.86 72.88v3.0M96.19 73.98v3.0M97.23 74.84v3.0M98.44 75.29v3.0M100.47 75.97v3.0M100.95 76.09v3.0M101.33 76.19v3.0M105.35 77.48v3.0M105.51 77.59v3.0M106.75 78.44v3.0M107.74 79.12v3.0M107.79 79.15v3.0M109.52 80.35v3.0M111.67 80.62v3.0M112.62 80.71v3.0M113.89 80.85v3.0M115.50 81.01v3.0M115.65 81.03v3.0M116.36 81.10v3.0M117.04 81.17v3.0M118.77 81.36v3.0M120.34 81.71v3.0M122.03 82.16v3.0M122.87 82.38v3.0M125.02 82.97v3.0M126.13 83.32v3.0M127.27 83.67v3.0M127.52 83.75v3.0M127.55 83.76v3.0M127.69 83.80v3.0M128.12 83.94v3.0M128.23 83.97v3.0M129.97 84.58v3.0M130.75 84.98v3.0M131.70 85.45v3.0M132.65 85.93v3.0M133.75 86.48v3.0M134.40 86.80v3.0M134.40 86.80v3.0M135.94 87.09v3.0M137.27 87.34v3.0M137.94 87.46v3.0M138.68 87.60v3.0M139.72 87.96v3.0M139.78 87.99v3.0M141.07 88.63v3.0M141.35 88.77v3.0M141.42 88.81v3.0M141.72 88.96v3.0M142.98 89.59v3.0M143.20 89.70v3.0M144.50 90.20v3.0M148.08 90.95v3.0M148.73 91.09v3.0M149.20 91.10v3.0M149.82 91.10v3.0M150.93 91.10v3.0M152.34 91.41v3.0M153.26 91.85v3.0M154.25 92.33v3.0M154.33 92.37v3.0M154.48 92.44v3.0M154.76 92.75v3.0M156.07 94.75v3.0M156.42 95.28v3.0M157.23 95.56v3.0M157.24 95.56v3.0M157.30 95.58v3.0M157.60 95.64v3.0M158.68 95.88v3.0M159.81 96.13v3.0M160.90 96.37v3.0M161.23 96.44v3.0M161.93 96.60v3.0M162.53 96.73v3.0M163.13 96.86v3.0M163.26 96.89v3.0M165.41 97.56v3.0M165.63 97.63v3.0M169.31 98.78v3.0M171.96 99.51v3.0M171.98 99.51v3.0M172.57 99.67v3.0M174.22 100.10v3.0M177.54 100.96v3.0M178.11 101.21v3.0M178.41 101.36v3.0M178.64 101.47v3.0M181.44 102.87v3.0M181.67 102.99v3.0M182.51 103.40v3.0M182.66 103.48v3.0M183.37 103.84v3.0M186.31 104.82v3.0M186.45 104.87v3.0M188.10 105.41v3.0M188.78 105.64v3.0M190.88 106.18v3.0M192.05 106.32v3.0M192.31 106.35v3.0M194.50 106.61v3.0M195.14 106.68v3.0M195.17 106.68v3.0M195.17 106.68v3.0M195.82 106.76v3.0M196.40 106.83v3.0M196.75 106.87v3.0M196.89 106.89v3.0M197.30 106.94v3.0M197.66 106.98v3.0M211.50 111.40v4M214.20 111.40v4M217.30 111.40v4" stroke="#1c5a96" stroke-width="1.1"/>
<path d="M64.90 55.12v3.0M66.87 55.67v3.0M69.45 56.40v3.0M69.63 56.45v3.0M73.31 57.53v3.0M75.08 58.11v3.0M78.35 59.15v3.0M78.84 59.24v3.0M79.50 59.36v3.0M80.20 59.49v3.0M89.70 65.61v3.0M90.95 66.00v3.0M91.59 66.20v3.0M92.37 66.45v3.0M92.83 66.59v3.0M92.90 66.61v3.0M93.05 66.66v3.0M95.59 67.63v3.0M96.07 67.82v3.0M99.94 69.33v3.0M100.35 69.48v3.0M100.79 69.65v3.0M101.80 70.04v3.0M102.09 70.15v3.0M102.75 70.40v3.0M107.17 72.78v3.0M110.22 74.38v3.0M112.58 75.07v3.0M113.99 75.48v3.0M117.45 76.69v3.0M121.44 77.90v3.0M122.57 78.13v3.0M124.36 78.51v3.0M124.43 78.52v3.0M126.30 79.35v3.0M127.14 79.77v3.0M129.12 80.76v3.0M130.58 81.59v3.0M131.06 81.88v3.0M131.13 81.92v3.0M134.82 84.15v3.0M135.01 84.27v3.0M135.92 84.82v3.0M136.51 85.18v3.0M137.01 85.48v3.0M138.91 86.62v3.0M144.20 89.23v3.0M144.62 89.31v3.0M146.13 89.58v3.0M146.64 89.67v3.0M147.79 89.87v3.0M148.50 89.99v3.0M148.75 90.04v3.0M149.00 90.08v3.0M149.33 90.14v3.0M152.67 91.02v3.0M153.64 91.35v3.0M154.00 91.47v3.0M157.34 92.52v3.0M165.32 94.43v3.0M166.17 94.61v3.0M166.38 94.65v3.0M166.68 94.72v3.0M166.82 94.74v3.0M167.41 94.87v3.0M167.54 94.90v3.0M167.93 94.98v3.0M168.35 95.06v3.0M169.54 95.37v3.0M172.63 96.33v3.0M174.58 96.92v3.0M175.33 97.14v3.0M176.09 97.35v3.0M177.14 97.65v3.0M177.81 97.84v3.0M178.39 98.01v3.0M178.48 98.04v3.0M178.94 98.17v3.0M183.79 99.59v3.0M183.98 99.65v3.0M184.97 99.96v3.0M186.37 100.40v3.0M189.18 101.23v3.0M189.52 101.32v3.0M189.97 101.44v3.0M190.37 101.54v3.0M191.10 101.73v3.0M191.93 101.95v3.0M196.28 103.01v3.0M198.95 103.56v3.0M215.40 128.40v4M218.80 128.40v4" stroke="#35b53f" stroke-width="1.1"/>
<path d="M64.95 55.30v3.0M65.03 55.33v3.0M67.84 56.17v3.0M73.00 57.82v3.0M74.46 58.35v3.0M76.48 59.08v3.0M76.48 59.08v3.0M77.61 59.50v3.0M83.58 60.00v3.0M87.56 60.06v3.0M91.97 60.39v3.0M100.15 62.62v3.0M100.80 62.72v3.0M101.06 62.76v3.0M101.44 62.82v3.0M103.13 63.07v3.0M105.74 63.46v3.0M112.22 66.46v3.0M115.13 68.36v3.0M117.51 69.90v3.0M120.81 71.66v3.0M122.21 72.23v3.0M124.03 72.99v3.0M124.13 73.02v3.0M127.60 74.12v3.0M128.21 74.29v3.0M133.97 75.61v3.0M136.33 76.30v3.0M137.16 76.56v3.0M137.47 76.66v3.0M138.13 76.87v3.0M140.44 77.82v3.0M143.17 79.19v3.0M143.44 79.32v3.0M143.61 79.40v3.0M145.30 79.84v3.0M147.30 80.22v3.0M148.42 80.43v3.0M149.00 80.60v3.0M151.09 81.62v3.0M151.12 81.63v3.0M151.93 82.04v3.0M153.34 82.73v3.0M160.62 84.65v3.0M162.98 85.49v3.0M167.89 86.15v3.0M169.36 86.33v3.0M169.97 86.40v3.0M170.62 86.48v3.0M178.00 87.32v3.0M180.78 87.61v3.0M181.62 87.70v3.0M181.67 87.70v3.0M183.24 87.87v3.0M185.80 88.14v3.0M187.04 88.27v3.0M187.72 88.30v3.0M190.23 88.30v3.0M210.00 96.20v4M213.00 96.40v4" stroke="#5e2a84" stroke-width="1.1"/>
<path d="M65.14 54.70v3.0M65.17 54.70v3.0M65.56 54.70v3.0M66.07 54.70v3.0M67.15 54.70v3.0M67.36 54.70v3.0M68.85 54.71v3.0M70.12 54.72v3.0M70.78 54.73v3.0M70.99 54.74v3.0M74.28 54.79v3.0M74.63 54.79v3.0M76.24 55.32v3.0M76.48 55.44v3.0M76.72 55.56v3.0M78.06 56.23v3.0M78.39 56.39v3.0M81.24 58.40v3.0M81.88 59.02v3.0M82.08 59.20v3.0M82.31 59.43v3.0M82.82 59.92v3.0M83.85 60.20v3.0M86.64 60.78v3.0M86.78 60.81v3.0M87.25 60.91v3.0M87.48 60.95v3.0M90.91 61.77v3.0M91.05 61.81v3.0M91.10 61.82v3.0M91.16 61.84v3.0M91.63 61.95v3.0M93.77 62.49v3.0M95.79 63.12v3.0M97.03 63.50v3.0M102.67 65.69v3.0M105.18 66.34v3.0M105.56 66.44v3.0M105.75 66.49v3.0M108.33 67.56v3.0M109.62 68.11v3.0M109.65 68.12v3.0M110.67 68.55v3.0M111.12 68.74v3.0M111.56 68.93v3.0M111.94 69.12v3.0M112.11 69.20v3.0M112.11 69.21v3.0M112.42 69.36v3.0M112.83 69.56v3.0M115.75 71.02v3.0M115.87 71.09v3.0M119.00 72.68v3.0M119.22 72.79v3.0M119.63 73.00v3.0M121.25 73.80v3.0M122.87 74.46v3.0M123.40 74.68v3.0M123.45 74.70v3.0M124.05 74.94v3.0M124.49 75.12v3.0M126.85 76.08v3.0M127.06 76.13v3.0M127.48 76.22v3.0M129.61 76.67v3.0M129.64 76.67v3.0M130.14 76.77v3.0M131.71 77.10v3.0M133.07 77.28v3.0M133.11 77.29v3.0M133.15 77.29v3.0M133.21 77.30v3.0M135.58 77.61v3.0M135.86 77.65v3.0M137.15 77.82v3.0M139.30 78.04v3.0M139.68 78.06v3.0M139.98 78.07v3.0M142.95 78.22v3.0M143.85 78.26v3.0M144.14 78.27v3.0M145.32 78.33v3.0M145.68 78.35v3.0M145.98 78.36v3.0M145.98 78.36v3.0M147.31 78.43v3.0M149.64 78.84v3.0M150.58 79.23v3.0M153.27 80.33v3.0M153.30 80.34v3.0M153.55 80.44v3.0M154.15 80.62v3.0M157.10 81.42v3.0M159.99 82.11v3.0M160.45 82.21v3.0M160.72 82.27v3.0M161.25 82.38v3.0M161.88 82.51v3.0M164.36 83.09v3.0M164.54 83.20v3.0M166.07 84.09v3.0M167.33 84.81v3.0M168.95 85.60v3.0M170.34 86.28v3.0M171.22 86.69v3.0M171.59 86.83v3.0M171.95 86.98v3.0M172.37 87.14v3.0M173.81 87.71v3.0M173.88 87.74v3.0M174.09 87.82v3.0M175.40 88.34v3.0M175.67 88.45v3.0M175.73 88.47v3.0M175.76 88.49v3.0M176.52 89.05v3.0M176.89 89.33v3.0M180.57 92.05v3.0M182.59 93.39v3.0M186.73 95.01v3.0M187.02 95.10v3.0M187.10 95.12v3.0M187.19 95.15v3.0M187.84 95.36v3.0M189.00 95.69v3.0M189.56 95.84v3.0M189.81 95.91v3.0M190.32 96.05v3.0M191.22 96.30v3.0M192.28 96.58v3.0M193.57 96.94v3.0M195.33 98.46v3.0M196.36 98.96v3.0M196.48 98.97v3.0M198.20 99.15v3.0M198.53 99.19v3.0M199.32 99.27v3.0M199.75 99.31v3.0M201.01 99.45v3.0M201.22 99.47v3.0M201.49 99.50v3.0M201.75 99.52v3.0M201.91 99.54v3.0M203.93 99.75v3.0M204.74 99.83v3.0M215.40 115.70v4M217.70 115.70v4M221.50 115.70v4" stroke="#f7941d" stroke-width="1.1"/>
<path d="M65.62 55.20v3.0M72.60 56.77v3.0M73.61 57.00v3.0M73.99 57.08v3.0M76.35 57.62v3.0M77.86 57.96v3.0M84.58 59.24v3.0M84.74 59.26v3.0M85.66 59.33v3.0M88.10 59.54v3.0M90.72 59.76v3.0M94.23 60.31v3.0M94.29 60.33v3.0M94.79 60.54v3.0M94.97 60.61v3.0M95.27 60.74v3.0M100.43 63.23v3.0M101.68 63.62v3.0M105.48 64.81v3.0M106.15 65.02v3.0M109.02 66.02v3.0M109.87 66.36v3.0M110.30 66.53v3.0M112.45 67.38v3.0M116.61 68.00v3.0M116.77 68.03v3.0M118.07 68.22v3.0M119.45 68.42v3.0M119.80 68.47v3.0M120.46 68.57v3.0M120.68 68.60v3.0M121.00 68.65v3.0M121.42 68.71v3.0M122.73 68.90v3.0M124.24 69.12v3.0M124.56 69.17v3.0M124.58 69.17v3.0M125.14 69.25v3.0M126.76 69.49v3.0M127.06 69.53v3.0M127.59 69.61v3.0M127.92 69.65v3.0M130.18 69.96v3.0M131.32 70.08v3.0M131.41 70.09v3.0M131.56 70.10v3.0M132.28 70.18v3.0M133.42 70.30v3.0M134.88 70.50v3.0M135.01 70.53v3.0M135.27 70.58v3.0M136.97 70.93v3.0M137.72 71.09v3.0M138.20 71.19v3.0M138.72 71.30v3.0M143.10 72.54v3.0M143.63 72.69v3.0M144.82 73.02v3.0M145.46 73.19v3.0M146.23 73.40v3.0M149.08 74.14v3.0M157.21 75.26v3.0M157.85 75.31v3.0M158.17 75.32v3.0M160.03 75.37v3.0M160.35 75.37v3.0M160.36 75.37v3.0M163.67 75.46v3.0M164.46 75.48v3.0M166.91 76.92v3.0M167.66 77.53v3.0M170.72 80.52v3.0M171.60 81.43v3.0M171.86 81.69v3.0M171.88 81.71v3.0M173.02 82.90v3.0M174.49 84.04v3.0M177.92 85.72v3.0M178.06 85.78v3.0M179.45 86.47v3.0M180.11 86.80v3.0M181.11 87.31v3.0M181.34 87.42v3.0M181.81 87.66v3.0M182.87 88.18v3.0M186.57 90.04v3.0M186.74 90.12v3.0M187.70 90.43v3.0M190.04 90.61v3.0M194.90 90.99v3.0M195.22 91.00v3.0M195.41 91.00v3.0M199.51 91.00v3.0M204.81 91.93v3.0M208.70 136.50v4M201.50 90.50v4" stroke="#177a5c" stroke-width="1.1"/>
<path d="M60.20 55.00h3.6M62.00 53.20v3.6" stroke="#177a5c" stroke-width="1.2"/>
<path d="M328.80 56.20H331.21V57.10H339.20H339.84V58.00H340.42V58.90H341.53V59.80H342.24V60.70H342.60H343.60V61.60H344.46V62.50H346.43V63.40H346.90H347.33V64.37H348.78V65.33H350.42V66.30H350.80H351.68V67.27H352.46V68.23H353.75V69.20H354.60H355.17V70.00H356.56V70.80H357.76V71.60H358.50H358.79V72.57H359.95V73.55H361.33V74.53H362.52V75.50H362.80H363.36V76.30H366.64V77.10H367.80H369.47V78.05H370.92V79.00H372.90H374.66V79.95H376.08V80.90H377.90H381.76V81.90H384.80H386.07V82.85H388.58V83.80H389.60H390.52V84.80H393.08V85.80H394.40H395.28V86.77H396.73V87.73H398.55V88.70H399.20H401.45V89.60H404.00H404.74V90.57H405.94V91.53H408.11V92.50H408.80H409.61V93.33H410.99V94.17H413.14V95.00H413.70H418.50H419.57V95.77H420.86V96.53H422.19V97.30H423.30H426.45V98.50H429.80H430.43V99.45H432.86V100.40H434.60H435.70V101.35H437.61V102.30H439.40H443.87V103.30H449.00H450.21V104.25H451.94V105.20H453.80H454.37V106.15H455.02V107.10H456.37V108.05H457.37V109.00H457.70H485.30" fill="none" stroke="#c8102e" stroke-width="1.25"/>
<path d="M328.80 56.20H329.21V56.70H329.60H329.88V57.53H331.40V58.35H332.51V59.17H334.12V60.00H334.40H334.81V60.75H336.89V61.50H337.30H340.41V61.90H341.20H341.62V62.73H342.30V63.55H342.71V64.38H343.66V65.20H343.80H344.23V66.03H345.34V66.87H346.18V67.70H346.40H347.54V68.30H350.20H351.04V69.10H352.40V69.90H353.00V70.70H354.46V71.50H355.20H358.53V72.70H360.30H367.80H369.31V73.40H372.90H377.90H382.99V74.20H384.80H385.68V74.95H388.85V75.70H389.60H399.20H399.59V76.66H401.24V77.62H402.94V78.58H403.72V79.54H405.13V80.50H406.00H406.35V81.33H406.97V82.15H407.56V82.97H408.32V83.80H408.80H410.25V84.80H413.70H415.53V85.75H417.56V86.70H418.50H419.68V87.67H420.58V88.63H422.77V89.60H423.30H425.05V90.80H429.80H430.63V91.60H432.33V92.40H433.67V93.20H434.60H463.50H464.30V93.60H464.60H464.60V104.20H478.30H478.30V131.20H484.70" fill="none" stroke="#1c5a96" stroke-width="1.25"/>
<path d="M328.80 56.20H339.40H339.40V68.30H424.70H424.70V82.30H462.50" fill="none" stroke="#35b53f" stroke-width="1.25"/>
<path d="M328.80 56.20H334.40H336.96V57.10H339.20H340.27V57.85H342.57V58.60H343.10H343.60V59.57H346.51V60.53H348.00V61.50H348.80H349.87V62.20H352.91V62.90H353.70H355.42V63.90H358.50H360.01V64.87H361.44V65.83H363.09V66.80H364.20H366.11V67.50H368.45V68.20H370.00H370.60V69.03H373.25V69.85H374.40V70.67H377.29V71.50H377.90H379.15V72.45H383.52V73.40H385.00H386.82V74.30H388.57V75.20H389.60H392.47V76.20H394.40H396.26V77.10H399.20H400.17V78.10H404.00H404.53V78.80H407.10V79.50H408.80H410.20V80.25H412.38V81.00H413.70H414.92V81.70H417.87V82.40H418.50H419.17V83.10H421.71V83.80H423.30H425.22V84.65H427.24V85.50H429.80H430.04V86.33H431.50V87.15H432.52V87.97H433.90V88.80H434.60H435.14V89.77H437.08V90.73H438.69V91.70H439.40H440.17V92.70H443.18V93.70H444.20H444.98V94.50H446.25V95.30H448.62V96.10H449.00H449.55V96.90H451.06V97.70H452.61V98.50H453.80H456.66V99.40H458.70H458.70V102.30H473.90H473.90V120.60H474.70H474.70V134.80H479.40" fill="none" stroke="#5e2a84" stroke-width="1.25"/>
<path d="M328.80 56.20H332.85V56.80H334.40H337.61V57.60H341.32V58.40H344.00H353.90H355.73V59.80H359.00H360.82V60.70H367.80H372.26V62.00H375.40H378.14V63.30H380.50H382.67V64.60H385.80H386.54V65.57H387.66V66.53H389.30V67.50H389.60H390.62V68.30H391.76V69.10H393.99V69.90H394.40H394.94V70.85H398.05V71.80H399.20H400.09V72.60H401.20H425.00H426.64V73.00H429.80H430.36V73.70H433.80V74.40H434.60H434.80V75.20H436.08V76.00H437.27V76.80H437.50H438.46V77.55H441.92V78.30H444.20H444.37V79.16H444.65V80.02H444.98V80.88H445.31V81.74H445.49V82.60H445.70H446.16V83.55H447.36V84.50H448.10H488.30" fill="none" stroke="#f7941d" stroke-width="1.25"/>
<path d="M328.80 56.20H341.90H341.90V87.90H361.50H361.50V104.30H365.30H365.30V119.10H455.20" fill="none" stroke="#177a5c" stroke-width="1.25"/>
<path d="M330.33 54.83v3.0M331.74 54.95v3.0M332.72 55.04v3.0M333.52 55.11v3.0M333.53 55.11v3.0M334.72 55.21v3.0M335.60 55.29v3.0M336.00 55.32v3.0M336.86 55.40v3.0M337.25 55.43v3.0M337.41 55.45v3.0M337.48 55.45v3.0M337.65 55.47v3.0M337.68 55.47v3.0M337.94 55.49v3.0M338.83 55.57v3.0M339.59 56.01v3.0M340.78 57.28v3.0M341.58 58.12v3.0M341.78 58.33v3.0M342.30 58.88v3.0M342.66 59.24v3.0M343.66 59.86v3.0M344.13 60.16v3.0M344.33 60.29v3.0M344.99 60.70v3.0M347.14 62.08v3.0M347.29 62.19v3.0M348.65 63.20v3.0M348.66 63.21v3.0M348.85 63.35v3.0M349.03 63.48v3.0M349.90 64.13v3.0M351.75 65.53v3.0M352.63 66.20v3.0M352.88 66.39v3.0M354.24 67.43v3.0M354.50 67.62v3.0M354.67 67.74v3.0M356.20 68.68v3.0M356.84 69.08v3.0M357.59 69.54v3.0M358.29 69.97v3.0M360.77 72.16v3.0M361.17 72.52v3.0M362.34 73.59v3.0M363.11 74.10v3.0M364.36 74.50v3.0M364.73 74.62v3.0M365.55 74.88v3.0M366.09 75.05v3.0M366.33 75.13v3.0M366.48 75.18v3.0M367.11 75.38v3.0M367.16 75.39v3.0M368.71 75.94v3.0M368.81 75.97v3.0M368.82 75.98v3.0M368.90 76.01v3.0M370.59 76.64v3.0M370.86 76.74v3.0M370.96 76.78v3.0M370.98 76.78v3.0M371.00 76.79v3.0M371.76 77.07v3.0M372.40 77.31v3.0M373.17 77.60v3.0M374.02 77.93v3.0M374.07 77.94v3.0M374.64 78.16v3.0M374.93 78.27v3.0M376.02 78.68v3.0M377.11 79.10v3.0M378.53 79.49v3.0M378.58 79.50v3.0M379.87 79.69v3.0M381.45 79.91v3.0M383.30 80.18v3.0M383.37 80.19v3.0M383.52 80.21v3.0M383.59 80.23v3.0M383.62 80.23v3.0M384.82 80.41v3.0M385.89 80.83v3.0M386.53 81.09v3.0M387.65 81.53v3.0M388.29 81.78v3.0M388.51 81.87v3.0M388.57 81.89v3.0M388.64 81.92v3.0M389.55 82.28v3.0M389.69 82.34v3.0M389.94 82.44v3.0M390.29 82.59v3.0M390.31 82.59v3.0M390.50 82.67v3.0M390.71 82.76v3.0M391.52 83.10v3.0M391.81 83.22v3.0M392.06 83.32v3.0M394.19 84.21v3.0M394.63 84.44v3.0M395.86 85.18v3.0M396.47 85.55v3.0M396.49 85.56v3.0M396.83 85.77v3.0M397.20 85.99v3.0M398.15 86.57v3.0M398.42 86.73v3.0M399.20 87.20v3.0M399.70 87.29v3.0M399.85 87.32v3.0M401.12 87.56v3.0M401.19 87.57v3.0M402.28 87.78v3.0M402.40 87.80v3.0M402.40 87.80v3.0M402.55 87.83v3.0M403.47 88.00v3.0M405.91 89.25v3.0M405.91 89.25v3.0M406.34 89.52v3.0M406.78 89.78v3.0M407.80 90.39v3.0M407.93 90.47v3.0M408.36 90.74v3.0M408.64 90.90v3.0M409.78 91.50v3.0M409.97 91.60v3.0M411.82 92.54v3.0M412.03 92.65v3.0M412.18 92.73v3.0M412.95 93.12v3.0M413.40 93.35v3.0M413.47 93.38v3.0M414.12 93.50v3.0M414.17 93.50v3.0M415.17 93.50v3.0M415.93 93.50v3.0M416.92 93.50v3.0M417.55 93.50v3.0M417.84 93.50v3.0M418.16 93.50v3.0M418.49 93.50v3.0M419.90 94.17v3.0M419.96 94.20v3.0M421.36 94.87v3.0M421.38 94.88v3.0M421.53 94.95v3.0M421.72 95.04v3.0M423.21 95.76v3.0M423.65 95.86v3.0M423.96 95.92v3.0M425.34 96.18v3.0M425.51 96.21v3.0M425.90 96.28v3.0M426.39 96.37v3.0M427.29 96.54v3.0M428.18 96.70v3.0M428.85 96.82v3.0M429.12 96.87v3.0M429.38 96.92v3.0M429.48 96.94v3.0M430.67 97.34v3.0M431.37 97.62v3.0M432.23 97.96v3.0M432.35 98.01v3.0M432.72 98.16v3.0M433.67 98.53v3.0M434.23 98.75v3.0M434.31 98.79v3.0M434.71 98.94v3.0M436.10 99.49v3.0M436.27 99.56v3.0M436.41 99.61v3.0M436.64 99.71v3.0M437.41 100.01v3.0M438.60 100.48v3.0M438.71 100.53v3.0M438.82 100.57v3.0M439.00 100.64v3.0M439.25 100.74v3.0M439.73 100.83v3.0M439.84 100.85v3.0M440.09 100.87v3.0M440.23 100.89v3.0M442.59 101.13v3.0M443.43 101.22v3.0M443.50 101.23v3.0M445.60 101.45v3.0M445.67 101.45v3.0M445.98 101.49v3.0M448.62 101.76v3.0M449.63 102.05v3.0M450.48 102.39v3.0M450.85 102.53v3.0M450.99 102.59v3.0M451.64 102.84v3.0M451.71 102.87v3.0M451.86 102.93v3.0M452.17 103.06v3.0M452.19 103.06v3.0M452.52 103.19v3.0M453.52 103.59v3.0M454.28 104.17v3.0M454.72 104.60v3.0M455.36 105.22v3.0M455.76 105.61v3.0M455.86 105.71v3.0M456.45 106.29v3.0M456.79 106.61v3.0M457.65 107.45v3.0M459.18 107.50v3.0M459.54 107.50v3.0M468.00 106.90v4M474.00 106.90v4M480.00 106.90v4M483.00 106.90v4" stroke="#c8102e" stroke-width="1.1"/>
<path d="M333.40 57.81v3.0M334.62 58.62v3.0M335.21 58.92v3.0M338.08 60.08v3.0M342.83 62.47v3.0M346.16 65.97v3.0M348.86 66.59v3.0M353.15 68.69v3.0M355.70 70.12v3.0M358.00 70.66v3.0M359.36 70.98v3.0M360.20 71.18v3.0M362.42 71.20v3.0M362.65 71.20v3.0M363.87 71.20v3.0M367.29 71.20v3.0M370.09 71.51v3.0M372.31 71.82v3.0M372.96 71.90v3.0M374.19 71.90v3.0M375.55 71.90v3.0M377.73 71.90v3.0M378.91 72.02v3.0M381.43 72.31v3.0M387.40 73.51v3.0M387.85 73.65v3.0M390.23 74.20v3.0M393.61 74.20v3.0M394.71 74.20v3.0M396.22 74.20v3.0M404.46 77.91v3.0M404.54 77.97v3.0M406.30 79.35v3.0M406.69 79.82v3.0M410.11 82.57v3.0M416.43 84.38v3.0M418.07 85.03v3.0M418.31 85.13v3.0M420.23 86.24v3.0M421.97 87.30v3.0M424.81 88.38v3.0M426.42 88.68v3.0M428.70 89.10v3.0M432.66 90.73v3.0M434.31 91.56v3.0M435.50 91.70v3.0M442.12 91.70v3.0M442.65 91.70v3.0M445.23 91.70v3.0M446.35 91.70v3.0M449.58 91.70v3.0M449.87 91.70v3.0M459.20 91.70v3.0M460.19 91.70v3.0M460.32 91.70v3.0M461.04 91.70v3.0M462.18 91.70v3.0M462.21 91.70v3.0M482.50 129.20v4" stroke="#1c5a96" stroke-width="1.1"/>
<path d="M394.40 66.30v4M432.70 80.30v4M440.40 80.30v4M449.00 80.30v4M452.90 80.30v4M461.20 80.30v4" stroke="#35b53f" stroke-width="1.1"/>
<path d="M330.64 54.70v3.0M331.39 54.70v3.0M331.66 54.70v3.0M331.85 54.70v3.0M332.01 54.70v3.0M332.85 54.70v3.0M334.61 54.74v3.0M335.07 54.83v3.0M335.23 54.85v3.0M336.23 55.04v3.0M336.54 55.10v3.0M336.69 55.13v3.0M336.78 55.15v3.0M337.71 55.32v3.0M338.75 55.52v3.0M339.38 55.67v3.0M339.77 55.82v3.0M340.28 56.02v3.0M340.44 56.08v3.0M342.52 56.88v3.0M342.79 56.98v3.0M343.42 57.26v3.0M344.49 57.81v3.0M345.54 58.34v3.0M345.94 58.54v3.0M346.15 58.65v3.0M346.65 58.91v3.0M346.73 58.95v3.0M347.85 59.52v3.0M348.12 59.66v3.0M349.31 60.15v3.0M349.50 60.20v3.0M349.80 60.29v3.0M349.98 60.34v3.0M350.33 60.44v3.0M350.45 60.47v3.0M350.46 60.47v3.0M351.25 60.70v3.0M351.46 60.76v3.0M351.64 60.81v3.0M351.86 60.87v3.0M352.27 60.99v3.0M352.62 61.09v3.0M353.25 61.27v3.0M353.92 61.45v3.0M354.20 61.50v3.0M355.85 61.85v3.0M357.05 62.10v3.0M357.08 62.11v3.0M358.18 62.33v3.0M359.65 62.99v3.0M360.61 63.47v3.0M360.70 63.52v3.0M361.81 64.09v3.0M362.44 64.40v3.0M362.45 64.41v3.0M362.46 64.41v3.0M364.35 65.34v3.0M365.01 65.50v3.0M365.19 65.54v3.0M365.26 65.56v3.0M365.35 65.58v3.0M365.52 65.62v3.0M366.45 65.84v3.0M366.72 65.91v3.0M366.82 65.93v3.0M368.28 66.29v3.0M369.26 66.52v3.0M369.38 66.55v3.0M370.76 67.02v3.0M371.34 67.26v3.0M372.29 67.66v3.0M372.98 67.94v3.0M374.38 68.53v3.0M375.35 68.93v3.0M376.48 69.41v3.0M376.62 69.47v3.0M377.36 69.77v3.0M377.83 69.97v3.0M378.67 70.21v3.0M379.03 70.30v3.0M380.37 70.66v3.0M380.87 70.80v3.0M381.07 70.85v3.0M381.23 70.89v3.0M381.33 70.92v3.0M381.75 71.03v3.0M381.79 71.04v3.0M382.18 71.15v3.0M382.28 71.17v3.0M382.70 71.28v3.0M383.13 71.40v3.0M383.61 71.53v3.0M384.85 71.86v3.0M384.85 71.86v3.0M386.00 72.29v3.0M386.39 72.45v3.0M386.91 72.65v3.0M387.59 72.91v3.0M388.74 73.36v3.0M389.03 73.48v3.0M389.37 73.61v3.0M391.38 74.07v3.0M391.43 74.08v3.0M392.06 74.21v3.0M392.70 74.34v3.0M392.71 74.35v3.0M393.30 74.47v3.0M394.02 74.62v3.0M395.69 74.94v3.0M395.94 74.99v3.0M398.43 75.46v3.0M398.88 75.54v3.0M399.29 75.62v3.0M400.71 75.91v3.0M400.73 75.92v3.0M401.52 76.08v3.0M402.13 76.21v3.0M402.39 76.27v3.0M403.63 76.52v3.0M403.91 76.58v3.0M404.31 76.69v3.0M404.78 76.83v3.0M405.69 77.09v3.0M405.84 77.14v3.0M406.20 77.24v3.0M406.54 77.34v3.0M407.04 77.49v3.0M408.14 77.81v3.0M408.35 77.87v3.0M409.45 78.20v3.0M409.77 78.30v3.0M410.21 78.43v3.0M410.41 78.49v3.0M410.85 78.63v3.0M413.15 79.33v3.0M413.81 79.53v3.0M414.79 79.82v3.0M415.04 79.89v3.0M415.28 79.96v3.0M415.50 80.02v3.0M416.05 80.18v3.0M416.68 80.37v3.0M417.63 80.65v3.0M417.66 80.65v3.0M418.46 80.89v3.0M419.81 81.28v3.0M420.30 81.43v3.0M420.33 81.43v3.0M420.56 81.50v3.0M420.56 81.50v3.0M420.69 81.54v3.0M422.28 82.00v3.0M422.86 82.17v3.0M423.53 82.36v3.0M424.50 82.61v3.0M426.00 83.01v3.0M426.59 83.16v3.0M427.19 83.32v3.0M427.80 83.48v3.0M428.55 83.67v3.0M429.11 83.82v3.0M429.82 84.02v3.0M429.97 84.12v3.0M430.66 84.59v3.0M431.04 84.85v3.0M431.94 85.47v3.0M432.00 85.52v3.0M432.13 85.60v3.0M432.15 85.62v3.0M433.08 86.26v3.0M434.61 87.31v3.0M435.28 87.71v3.0M435.56 87.88v3.0M436.64 88.53v3.0M437.60 89.12v3.0M438.12 89.43v3.0M438.31 89.54v3.0M438.53 89.67v3.0M438.87 89.88v3.0M439.11 90.03v3.0M439.46 90.23v3.0M440.10 90.49v3.0M441.80 91.20v3.0M441.83 91.21v3.0M442.35 91.43v3.0M442.38 91.44v3.0M442.46 91.47v3.0M443.49 91.91v3.0M444.03 92.13v3.0M445.59 92.90v3.0M445.96 93.08v3.0M445.97 93.08v3.0M446.27 93.24v3.0M446.83 93.52v3.0M448.56 94.38v3.0M451.03 95.61v3.0M451.43 95.82v3.0M451.76 95.98v3.0M451.83 96.01v3.0M452.47 96.34v3.0M452.62 96.41v3.0M452.73 96.46v3.0M452.74 96.47v3.0M452.74 96.47v3.0M453.46 96.83v3.0M453.54 96.87v3.0M455.65 97.34v3.0M455.71 97.35v3.0M456.98 97.58v3.0M457.07 97.60v3.0M457.08 97.60v3.0M457.87 97.75v3.0M477.50 132.80v4" stroke="#5e2a84" stroke-width="1.1"/>
<path d="M333.61 55.21v3.0M334.13 55.27v3.0M334.25 55.28v3.0M337.97 55.90v3.0M341.10 56.42v3.0M345.93 56.94v3.0M349.20 57.01v3.0M349.42 57.01v3.0M351.90 57.06v3.0M354.99 57.36v3.0M356.53 57.72v3.0M363.27 58.74v3.0M364.00 58.81v3.0M372.33 59.98v3.0M375.49 60.52v3.0M375.52 60.53v3.0M375.55 60.54v3.0M378.18 61.21v3.0M382.43 62.27v3.0M382.64 62.33v3.0M383.57 62.55v3.0M386.84 63.89v3.0M387.30 64.24v3.0M392.23 67.31v3.0M393.89 68.15v3.0M394.05 68.22v3.0M395.19 68.71v3.0M397.33 69.56v3.0M398.78 70.13v3.0M401.60 71.10v3.0M401.99 71.10v3.0M405.98 71.10v3.0M407.11 71.10v3.0M409.70 71.10v3.0M412.18 71.10v3.0M413.54 71.10v3.0M414.75 71.10v3.0M418.61 71.10v3.0M425.86 71.17v3.0M429.70 71.49v3.0M431.79 72.08v3.0M432.65 72.33v3.0M432.81 72.38v3.0M441.93 76.29v3.0M444.97 79.00v3.0M468.00 82.70v4M473.00 82.70v4M478.00 82.70v4M481.00 82.70v4M485.00 82.70v4" stroke="#f7941d" stroke-width="1.1"/>
<path d="M391.70 117.10v4M425.40 117.10v4M436.00 117.10v4M453.70 117.10v4" stroke="#177a5c" stroke-width="1.1"/>
<path d="M327.00 54.60h3.6M328.80 52.80v3.6" stroke="#f7941d" stroke-width="1.2"/>
<path d="M339.60 54.40h3.6M341.40 52.60v3.6" stroke="#177a5c" stroke-width="1.2"/>
<path d="M196.70 349.60H197.75V350.48H200.80V351.35H204.01V352.23H206.41V353.10H207.20H208.10V353.90H209.42V354.70H211.13V355.50H212.00H212.37V356.32H212.71V357.15H213.31V357.98H213.78V358.80H214.00H215.03V359.80H216.36V360.80H216.80H217.52V361.75H219.14V362.70H220.70H220.97V363.56H221.80V364.42H222.64V365.28H223.50V366.14H224.30V367.00H224.50H224.83V367.70H226.96V368.40H227.40H229.39V369.40H232.39V370.40H233.20H234.50V371.10H236.47V371.80H238.00H240.35V372.70H243.56V373.60H244.60H247.53V374.55H252.99V375.50H254.20H256.16V376.40H259.00H259.60V377.15H262.68V377.90H263.80H264.91V378.87H265.96V379.83H268.13V380.80H268.70H270.52V381.75H271.92V382.70H273.50H274.85V383.65H277.36V384.60H278.30H278.99V385.30H280.22V386.00H281.20H284.16V387.20H289.60H292.72V388.15H297.64V389.10H299.20H300.34V390.10H302.21V391.10H304.00H307.28V392.00H308.80H313.91V393.00H316.50H317.16V393.70H319.52V394.40H320.40H320.53V395.32H320.71V396.24H320.85V397.16H321.03V398.08H321.22V399.00H321.30H330.83V399.80H351.70" fill="none" stroke="#c8102e" stroke-width="1.25"/>
<path d="M196.70 349.60H197.60H198.10V350.67H199.69V351.63H201.79V352.60H202.40H203.07V353.57H204.86V354.53H206.31V355.50H207.20H208.42V356.45H210.29V357.40H212.00H212.54V358.10H216.32V358.80H216.80H217.63V359.80H219.26V360.80H220.70H221.43V361.73H222.82V362.67H223.61V363.60H224.50H226.40V364.35H229.28V365.10H231.30H232.12V365.90H233.24V366.70H234.85V367.50H236.10H236.83V368.30H237.69V369.10H238.40V369.90H239.37V370.70H239.80H240.37V371.67H242.47V372.63H243.73V373.60H244.60H248.29V374.55H252.57V375.50H254.20H255.54V376.30H257.64V377.10H258.75V377.90H260.00H263.80H264.35V378.85H267.04V379.80H268.70H270.18V380.80H273.50H274.10V381.75H276.45V382.70H278.30H279.07V383.65H280.80V384.60H281.20H283.00V385.60H285.00H286.18V386.63H287.68V387.67H288.43V388.70H289.60H290.27V389.52H291.33V390.35H292.33V391.18H294.13V392.00H294.40H295.53V392.80H299.32V393.60H302.67V394.40H304.00H307.71V395.40H308.80H313.43V396.30H316.50H323.30H323.46V397.17H323.84V398.03H324.14V398.90H324.69V399.77H325.06V400.63H325.26V401.50H325.50H326.07V402.35H328.95V403.20H330.60H330.60V406.50H353.70" fill="none" stroke="#1c5a96" stroke-width="1.25"/>
<path d="M196.70 349.60H198.41V350.30H203.93V351.00H205.00H206.30V351.88H207.98V352.75H208.90V353.62H211.43V354.50H212.00H212.75V355.45H213.91V356.40H215.35V357.35H215.88V358.30H216.80H217.17V359.27H218.95V360.23H220.39V361.20H220.70H221.58V361.95H222.70V362.70H223.60H228.40H233.20H234.00V363.40H235.60V364.10H236.10H236.59V365.00H238.68V365.90H239.80H241.50V366.80H244.60H245.92V367.80H249.40H250.57V368.70H252.52V369.60H254.20H254.70V370.30H256.06V371.00H257.10H257.71V371.80H258.31V372.60H259.10H259.40V373.45H259.73V374.30H260.16V375.15H260.88V376.00H261.00H261.21V376.93H262.11V377.87H262.72V378.80H263.36V379.73H263.71V380.67H264.46V381.60H264.80H265.88V382.50H269.00H270.89V383.50H273.26V384.50H274.00H274.40V385.44H275.03V386.38H275.68V387.32H276.59V388.26H277.14V389.20H277.50H278.48V389.60H279.20H285.80H286.21V390.45H287.70V391.30H288.98V392.15H290.97V393.00H291.50H294.83V393.70H299.54V394.40H304.00H304.72V395.35H305.36V396.30H306.00H310.69V396.80H316.50H322.30H345.80H345.80V478.10" fill="none" stroke="#35b53f" stroke-width="1.25"/>
<path d="M196.70 349.60H198.37V350.20H202.40H203.27V350.90H206.49V351.60H207.20H208.16V352.55H210.32V353.50H212.00H213.19V354.50H215.34V355.50H216.80H218.62V356.45H219.91V357.40H221.70H225.48V357.90H226.50H227.06V358.60H230.67V359.30H231.30H233.31V360.25H235.74V361.20H238.00H238.80V362.00H240.26V362.80H241.89V363.60H243.48V364.40H244.60H245.60V365.35H248.91V366.30H249.40H251.32V367.30H253.61V368.30H254.20H255.44V369.20H259.00H260.79V369.70H263.80H267.41V370.70H268.70H270.95V371.20H278.30H283.07V372.30H285.80H286.28V373.10H288.06V373.90H288.60V374.70H289.60H299.20H300.09V375.50H301.03V376.30H302.17V377.10H303.10H303.29V378.07H304.74V379.03H305.53V380.00H306.00H307.78V381.00H311.70H312.81V381.95H315.89V382.90H316.50H316.72V383.87H317.53V384.83H318.02V385.80H318.50H320.75V386.30H325.80H325.95V387.27H326.17V388.25H326.32V389.23H326.53V390.20H326.70H334.00V390.70H355.60" fill="none" stroke="#5e2a84" stroke-width="1.25"/>
<path d="M196.70 349.60H202.40H207.20H210.10H211.20V350.65H213.02V351.60H214.00H214.69V352.55H216.51V353.50H217.80H218.62V354.25H220.16V355.00H220.70H223.31V356.00H224.50H227.14V356.90H229.30H229.93V357.75H231.72V358.60H233.20H234.74V359.45H236.67V360.30H238.00H239.80H240.81V361.40H241.77V362.20H244.10V363.00H244.60H245.56V363.70H248.69V364.40H249.40H251.12V365.15H252.99V365.90H254.20H254.40V366.70H255.89V367.50H256.60V368.30H257.10H258.72V369.10H260.14V369.90H262.26V370.70H263.80H265.51V371.40H267.28V372.10H268.70H269.42V372.85H272.11V373.60H273.50H275.31V374.40H277.41V375.20H280.00H282.46V376.20H284.80H285.55V377.00H287.22V377.80H288.44V378.60H289.60H291.11V379.30H293.66V380.00H294.40H296.13V380.70H297.74V381.40H299.20H300.20V382.20H301.49V383.00H303.44V383.80H304.00H304.57V384.80H308.14V385.80H308.80H310.69V386.50H312.47V387.20H313.70H314.51V388.00H316.13V388.80H317.74V389.60H318.50H318.88V390.43H321.65V391.27H322.62V392.10H323.80H324.01V393.07H324.64V394.03H325.37V395.00H325.80H331.74V395.50H334.40H339.20H341.80H341.80V411.40H342.60H342.60V444.30" fill="none" stroke="#f7941d" stroke-width="1.25"/>
<path d="M196.70 349.60H202.40H203.45V350.20H207.20H207.70V351.00H210.33V351.80H211.68V352.60H213.00H213.80V353.50H216.80H226.50H228.63V354.50H230.30H230.48V355.47H230.80V356.43H231.17V357.40H231.30H239.80H240.18V358.40H242.30V359.10H242.70H243.10V359.90H243.48V360.70H244.14V361.50H244.60H254.20H254.85V362.30H256.15V363.10H257.28V363.90H258.10H262.83V364.40H275.40H276.04V365.15H277.26V365.90H278.30H303.10H303.63V366.70H304.73V367.50H305.00H305.17V368.36H305.90V369.22H306.54V370.08H306.91V370.94H307.72V371.80H307.90H308.45V372.65H308.94V373.50H309.68V374.35H310.59V375.20H310.80H311.45V376.17H312.62V377.13H314.30V378.10H314.60H315.90V379.05H317.34V380.00H318.50H343.10" fill="none" stroke="#177a5c" stroke-width="1.25"/>
<path d="M198.44 348.46v3.5M198.80 348.68v3.5M199.31 348.98v3.5M202.81 351.10v3.5M204.25 351.97v3.5M206.41 353.27v3.5M207.90 354.03v3.5M209.56 354.68v3.5M209.60 354.70v3.5M210.25 354.96v3.5M213.04 355.95v3.5M215.44 356.65v3.5M215.70 356.73v3.5M216.18 356.87v3.5M217.06 357.19v3.5M217.46 357.39v3.5M218.13 357.73v3.5M218.20 357.77v3.5M218.70 358.02v3.5M219.32 358.34v3.5M219.34 358.35v3.5M219.47 358.42v3.5M222.55 360.42v3.5M223.88 361.39v3.5M226.31 362.25v3.5M227.20 362.45v3.5M228.66 362.77v3.5M230.56 363.19v3.5M232.47 363.93v3.5M232.50 363.95v3.5M233.41 364.40v3.5M233.68 364.54v3.5M234.68 365.04v3.5M234.96 365.18v3.5M235.65 365.53v3.5M237.93 367.33v3.5M238.79 368.07v3.5M239.04 368.29v3.5M239.69 368.85v3.5M240.19 369.19v3.5M242.85 370.79v3.5M243.15 370.97v3.5M243.47 371.17v3.5M244.39 371.72v3.5M244.50 371.79v3.5M245.30 371.99v3.5M248.06 372.53v3.5M248.69 372.66v3.5M248.97 372.71v3.5M249.52 372.82v3.5M250.20 372.96v3.5M250.34 372.99v3.5M250.45 373.01v3.5M250.58 373.03v3.5M250.89 373.09v3.5M251.35 373.19v3.5M251.65 373.24v3.5M251.89 373.29v3.5M251.97 373.31v3.5M252.67 373.45v3.5M254.29 373.79v3.5M255.12 374.13v3.5M255.86 374.44v3.5M256.79 374.82v3.5M256.99 374.90v3.5M258.08 375.36v3.5M258.63 375.58v3.5M259.33 375.87v3.5M260.16 376.15v3.5M260.72 376.15v3.5M261.05 376.15v3.5M261.30 376.15v3.5M261.52 376.15v3.5M262.15 376.15v3.5M262.58 376.15v3.5M263.35 376.15v3.5M263.36 376.15v3.5M263.75 376.15v3.5M265.49 376.81v3.5M265.74 376.90v3.5M266.45 377.18v3.5M267.05 377.41v3.5M267.35 377.52v3.5M271.21 378.57v3.5M271.52 378.64v3.5M272.83 378.91v3.5M272.98 378.94v3.5M273.04 378.95v3.5M274.85 379.58v3.5M275.36 379.79v3.5M275.42 379.81v3.5M275.85 379.98v3.5M276.36 380.18v3.5M277.53 380.65v3.5M277.64 380.69v3.5M277.86 380.78v3.5M280.69 382.51v3.5M281.87 383.03v3.5M282.02 383.07v3.5M282.38 383.16v3.5M282.77 383.26v3.5M283.76 383.52v3.5M284.60 383.75v3.5M286.28 384.71v3.5M287.80 385.73v3.5M288.44 386.17v3.5M289.62 386.97v3.5M290.82 387.79v3.5M292.08 388.66v3.5M292.65 389.05v3.5M294.01 389.98v3.5M295.09 390.42v3.5M297.27 390.97v3.5M297.39 391.00v3.5M299.19 391.45v3.5M299.20 391.45v3.5M300.48 391.77v3.5M301.25 391.96v3.5M301.86 392.12v3.5M304.76 392.81v3.5M305.51 392.97v3.5M305.99 393.06v3.5M307.34 393.35v3.5M309.16 393.69v3.5M309.99 393.79v3.5M310.41 393.84v3.5M310.94 393.90v3.5M311.48 393.96v3.5M312.61 394.10v3.5M312.92 394.13v3.5M313.35 394.18v3.5M314.07 394.27v3.5M314.50 394.32v3.5M314.84 394.36v3.5M316.21 394.52v3.5M317.88 394.55v3.5M318.49 394.55v3.5M319.01 394.55v3.5M319.19 394.55v3.5M319.51 394.55v3.5M319.64 394.55v3.5M320.40 394.55v3.5M321.17 394.55v3.5M321.25 394.55v3.5M336.00 404.50v4M342.00 404.50v4M348.00 404.50v4M352.00 404.50v4" stroke="#1c5a96" stroke-width="1.1"/>
<path d="M198.52 348.46v3.5M200.04 348.96v3.5M201.54 349.46v3.5M204.15 350.33v3.5M204.34 350.40v3.5M204.79 350.55v3.5M206.78 351.21v3.5M206.78 351.21v3.5M206.82 351.22v3.5M207.51 351.50v3.5M208.07 351.79v3.5M210.15 352.82v3.5M211.36 353.43v3.5M212.00 353.75v3.5M217.24 359.27v3.5M217.84 359.56v3.5M218.44 359.85v3.5M219.39 360.31v3.5M219.79 360.51v3.5M220.15 360.68v3.5M220.90 361.17v3.5M221.25 361.57v3.5M223.67 364.32v3.5M224.60 365.30v3.5M225.21 365.59v3.5M225.30 365.63v3.5M225.68 365.82v3.5M226.10 366.02v3.5M226.78 366.35v3.5M227.48 366.68v3.5M229.22 367.28v3.5M231.95 368.22v3.5M232.50 368.41v3.5M232.98 368.57v3.5M233.78 368.82v3.5M238.33 370.14v3.5M238.68 370.24v3.5M239.30 370.40v3.5M240.69 370.78v3.5M240.84 370.82v3.5M241.16 370.91v3.5M244.30 371.77v3.5M245.74 372.07v3.5M246.33 372.19v3.5M246.42 372.21v3.5M248.27 372.58v3.5M249.23 372.77v3.5M250.64 373.04v3.5M254.44 373.79v3.5M256.23 374.13v3.5M256.68 374.22v3.5M256.82 374.24v3.5M257.10 374.29v3.5M257.69 374.40v3.5M258.27 374.51v3.5M258.44 374.54v3.5M258.60 374.58v3.5M259.42 374.78v3.5M260.18 375.02v3.5M260.53 375.13v3.5M264.70 376.68v3.5M265.53 377.17v3.5M265.56 377.19v3.5M266.00 377.45v3.5M267.27 378.20v3.5M267.57 378.38v3.5M268.53 378.95v3.5M268.53 378.95v3.5M268.83 379.10v3.5M270.35 379.70v3.5M271.07 379.99v3.5M271.97 380.35v3.5M272.15 380.42v3.5M272.72 380.64v3.5M273.38 380.90v3.5M273.63 381.00v3.5M274.49 381.34v3.5M275.11 381.59v3.5M279.91 383.63v3.5M280.61 383.96v3.5M281.04 384.17v3.5M281.15 384.22v3.5M281.29 384.26v3.5M282.46 384.43v3.5M282.55 384.44v3.5M282.63 384.45v3.5M282.79 384.48v3.5M283.39 384.56v3.5M284.82 384.77v3.5M285.59 384.88v3.5M286.94 385.07v3.5M286.99 385.08v3.5M287.01 385.08v3.5M288.21 385.25v3.5M288.53 385.30v3.5M289.56 385.44v3.5M289.92 385.51v3.5M290.07 385.54v3.5M290.33 385.59v3.5M290.41 385.61v3.5M292.34 385.99v3.5M293.05 386.13v3.5M293.40 386.20v3.5M293.89 386.30v3.5M294.29 386.38v3.5M294.34 386.39v3.5M296.15 386.75v3.5M296.87 386.89v3.5M299.50 387.48v3.5M299.98 387.67v3.5M300.77 388.01v3.5M301.01 388.10v3.5M301.04 388.12v3.5M303.24 389.03v3.5M304.82 389.50v3.5M305.13 389.56v3.5M307.01 389.91v3.5M308.40 390.17v3.5M308.69 390.23v3.5M309.45 390.33v3.5M312.09 390.68v3.5M312.65 390.75v3.5M315.11 391.07v3.5M315.33 391.10v3.5M315.74 391.15v3.5M316.78 391.35v3.5M316.98 391.42v3.5M317.29 391.53v3.5M319.00 392.15v3.5M319.54 392.34v3.5M320.83 394.85v3.5M333.00 397.80v4M340.00 397.80v4M345.00 397.80v4M350.00 397.80v4" stroke="#c8102e" stroke-width="1.1"/>
<path d="M198.72 348.19v3.5M199.93 348.39v3.5M200.49 348.49v3.5M210.20 351.85v3.5M211.14 352.32v3.5M213.39 353.85v3.5M213.72 354.11v3.5M215.80 355.76v3.5M217.13 356.79v3.5M218.54 357.84v3.5M218.72 357.98v3.5M219.08 358.25v3.5M223.85 360.95v3.5M225.03 360.95v3.5M225.79 360.95v3.5M226.37 360.95v3.5M227.28 360.95v3.5M228.02 360.95v3.5M228.12 360.95v3.5M231.09 360.95v3.5M232.23 360.95v3.5M232.69 360.95v3.5M236.03 362.32v3.5M236.30 362.45v3.5M237.15 362.86v3.5M242.07 364.58v3.5M242.44 364.65v3.5M244.04 364.94v3.5M248.97 365.96v3.5M253.43 367.56v3.5M253.90 367.74v3.5M255.09 368.28v3.5M258.59 370.44v3.5M259.88 372.24v3.5M268.55 380.65v3.5M269.19 380.82v3.5M277.41 387.33v3.5M279.32 387.85v3.5M280.03 387.85v3.5M281.67 387.85v3.5M282.05 387.85v3.5M285.40 387.85v3.5M286.22 388.10v3.5M292.49 391.36v3.5M294.91 391.63v3.5M296.16 391.77v3.5M296.93 391.86v3.5M299.48 392.14v3.5M300.14 392.22v3.5M305.75 394.31v3.5M306.11 394.56v3.5M308.07 394.65v3.5M310.20 394.75v3.5M311.06 394.79v3.5M315.09 394.98v3.5M316.42 395.05v3.5M319.34 395.15v3.5M321.63 395.23v3.5" stroke="#35b53f" stroke-width="1.1"/>
<path d="M198.67 348.06v3.5M198.75 348.07v3.5M198.93 348.09v3.5M200.73 348.27v3.5M201.09 348.31v3.5M202.11 348.42v3.5M202.22 348.43v3.5M203.00 348.63v3.5M203.42 348.75v3.5M204.08 348.94v3.5M204.41 349.04v3.5M204.47 349.05v3.5M204.82 349.16v3.5M205.07 349.23v3.5M205.19 349.26v3.5M206.38 349.61v3.5M206.69 349.70v3.5M207.18 349.84v3.5M209.44 350.73v3.5M210.84 351.29v3.5M212.86 352.11v3.5M214.72 352.88v3.5M214.85 352.94v3.5M215.16 353.07v3.5M215.19 353.08v3.5M216.26 353.52v3.5M217.28 353.94v3.5M217.69 354.10v3.5M218.19 354.29v3.5M219.21 354.68v3.5M220.34 355.12v3.5M220.61 355.23v3.5M222.37 355.72v3.5M222.78 355.76v3.5M223.71 355.86v3.5M223.90 355.88v3.5M224.02 355.89v3.5M226.31 356.13v3.5M227.56 356.46v3.5M228.74 356.80v3.5M228.77 356.81v3.5M228.81 356.82v3.5M228.98 356.87v3.5M229.19 356.93v3.5M229.53 357.03v3.5M229.98 357.16v3.5M230.02 357.18v3.5M230.37 357.28v3.5M231.32 357.56v3.5M231.51 357.61v3.5M233.23 358.10v3.5M234.03 358.32v3.5M235.22 358.66v3.5M235.49 358.74v3.5M236.03 358.89v3.5M237.12 359.20v3.5M237.52 359.31v3.5M237.52 359.31v3.5M239.21 360.04v3.5M240.63 360.72v3.5M240.94 360.88v3.5M240.98 360.90v3.5M242.80 361.78v3.5M243.68 362.20v3.5M243.72 362.22v3.5M243.99 362.35v3.5M244.10 362.41v3.5M245.57 363.04v3.5M245.80 363.12v3.5M248.11 364.04v3.5M249.42 364.56v3.5M249.50 364.59v3.5M250.62 365.06v3.5M251.09 365.25v3.5M252.39 365.79v3.5M254.05 366.49v3.5M254.36 366.58v3.5M254.45 366.60v3.5M257.20 367.11v3.5M257.72 367.21v3.5M260.23 367.58v3.5M261.34 367.69v3.5M262.60 367.82v3.5M264.27 368.05v3.5M265.20 368.24v3.5M265.77 368.35v3.5M265.82 368.36v3.5M266.95 368.59v3.5M267.47 368.70v3.5M268.15 368.84v3.5M270.63 369.05v3.5M270.76 369.06v3.5M272.11 369.13v3.5M272.15 369.13v3.5M273.29 369.19v3.5M274.84 369.27v3.5M275.12 369.28v3.5M275.87 369.32v3.5M279.15 369.57v3.5M280.11 369.71v3.5M280.85 369.82v3.5M281.12 369.86v3.5M281.17 369.87v3.5M281.59 369.93v3.5M282.09 370.01v3.5M282.30 370.04v3.5M282.65 370.09v3.5M282.79 370.11v3.5M283.95 370.28v3.5M284.99 370.43v3.5M285.25 370.47v3.5M285.51 370.51v3.5M286.19 370.80v3.5M286.74 371.15v3.5M289.33 372.78v3.5M289.74 372.95v3.5M290.07 372.95v3.5M292.11 372.95v3.5M292.25 372.95v3.5M293.03 372.95v3.5M293.41 372.95v3.5M295.01 372.95v3.5M295.75 372.95v3.5M297.10 372.95v3.5M297.27 372.95v3.5M298.31 372.95v3.5M299.17 372.95v3.5M299.75 373.29v3.5M301.12 374.13v3.5M302.79 375.16v3.5M302.91 375.23v3.5M303.23 375.48v3.5M303.65 375.90v3.5M303.87 376.12v3.5M303.93 376.18v3.5M304.24 376.49v3.5M304.44 376.69v3.5M305.58 377.83v3.5M306.14 378.28v3.5M306.26 378.29v3.5M306.63 378.36v3.5M307.22 378.46v3.5M307.65 378.54v3.5M307.82 378.57v3.5M307.89 378.58v3.5M307.90 378.58v3.5M312.46 379.55v3.5M313.77 380.07v3.5M313.85 380.10v3.5M315.04 380.57v3.5M318.73 384.07v3.5M319.52 384.12v3.5M319.62 384.13v3.5M320.26 384.17v3.5M320.79 384.21v3.5M320.99 384.22v3.5M321.73 384.27v3.5M321.74 384.27v3.5M324.11 384.43v3.5M335.00 388.70v4M340.00 388.70v4M345.00 388.70v4M350.00 388.70v4M354.00 388.70v4" stroke="#5e2a84" stroke-width="1.1"/>
<path d="M198.93 347.85v3.5M200.96 347.85v3.5M201.75 347.85v3.5M201.96 347.85v3.5M202.17 347.85v3.5M202.28 347.85v3.5M202.30 347.85v3.5M203.41 347.85v3.5M204.77 347.85v3.5M205.03 347.85v3.5M205.18 347.85v3.5M205.94 347.85v3.5M207.32 347.85v3.5M209.26 347.92v3.5M209.40 347.93v3.5M210.54 348.16v3.5M211.85 348.80v3.5M212.86 349.29v3.5M213.15 349.44v3.5M213.31 349.51v3.5M214.60 350.15v3.5M214.89 350.29v3.5M215.23 350.46v3.5M215.82 350.76v3.5M216.16 350.93v3.5M217.48 351.59v3.5M217.69 351.69v3.5M217.72 351.71v3.5M218.34 352.03v3.5M219.07 352.41v3.5M220.35 353.07v3.5M221.25 353.40v3.5M223.00 353.86v3.5M225.15 354.37v3.5M225.66 354.47v3.5M226.17 354.56v3.5M226.30 354.59v3.5M226.56 354.64v3.5M227.21 354.76v3.5M227.27 354.77v3.5M228.14 354.93v3.5M228.27 354.96v3.5M228.70 355.04v3.5M231.30 356.02v3.5M231.37 356.05v3.5M231.40 356.07v3.5M231.83 356.25v3.5M231.99 356.32v3.5M232.94 356.74v3.5M232.94 356.74v3.5M234.31 357.24v3.5M235.74 357.75v3.5M236.89 358.16v3.5M237.30 358.30v3.5M237.55 358.39v3.5M238.35 358.61v3.5M238.89 358.70v3.5M239.29 358.77v3.5M239.60 358.82v3.5M240.03 358.96v3.5M240.84 359.37v3.5M242.14 360.02v3.5M243.88 360.89v3.5M244.01 360.96v3.5M244.27 361.09v3.5M244.71 361.28v3.5M245.32 361.46v3.5M245.64 361.55v3.5M245.80 361.60v3.5M245.87 361.62v3.5M246.16 361.70v3.5M246.61 361.84v3.5M249.25 362.61v3.5M251.02 363.16v3.5M252.51 363.62v3.5M255.23 365.00v3.5M257.65 366.75v3.5M258.37 367.01v3.5M259.61 367.45v3.5M259.66 367.47v3.5M260.49 367.77v3.5M261.19 368.01v3.5M261.45 368.11v3.5M262.08 368.33v3.5M264.35 369.11v3.5M264.83 369.24v3.5M265.61 369.47v3.5M265.87 369.54v3.5M266.18 369.63v3.5M267.79 370.09v3.5M267.81 370.10v3.5M267.96 370.14v3.5M268.81 370.38v3.5M269.25 370.52v3.5M269.31 370.54v3.5M270.11 370.79v3.5M270.46 370.90v3.5M271.10 371.10v3.5M271.50 371.23v3.5M272.06 371.40v3.5M272.68 371.59v3.5M273.06 371.71v3.5M273.15 371.74v3.5M273.29 371.79v3.5M274.93 372.20v3.5M275.52 372.35v3.5M275.61 372.37v3.5M277.08 372.73v3.5M277.30 372.78v3.5M277.37 372.80v3.5M277.93 372.94v3.5M278.15 372.99v3.5M278.65 373.12v3.5M279.24 373.26v3.5M279.44 373.31v3.5M280.07 373.46v3.5M280.16 373.48v3.5M280.69 373.59v3.5M281.35 373.73v3.5M281.41 373.74v3.5M281.80 373.82v3.5M281.86 373.84v3.5M282.29 373.93v3.5M283.76 374.23v3.5M284.36 374.36v3.5M285.29 374.69v3.5M286.34 375.22v3.5M286.43 375.26v3.5M289.89 376.94v3.5M290.84 377.21v3.5M290.92 377.24v3.5M292.24 377.62v3.5M292.61 377.73v3.5M292.75 377.77v3.5M295.14 378.46v3.5M295.75 378.64v3.5M296.86 378.97v3.5M296.97 379.00v3.5M298.08 379.32v3.5M298.12 379.34v3.5M298.32 379.39v3.5M298.67 379.49v3.5M298.68 379.50v3.5M299.35 379.72v3.5M299.53 379.81v3.5M299.79 379.95v3.5M300.70 380.40v3.5M301.12 380.61v3.5M302.74 381.42v3.5M303.46 381.78v3.5M304.99 382.46v3.5M305.60 382.72v3.5M307.46 383.49v3.5M308.97 384.10v3.5M309.11 384.14v3.5M310.13 384.43v3.5M310.44 384.52v3.5M311.51 384.82v3.5M312.35 385.07v3.5M313.65 385.44v3.5M313.75 385.47v3.5M314.09 385.65v3.5M315.08 386.14v3.5M317.28 387.24v3.5M318.23 387.71v3.5M318.26 387.73v3.5M318.95 388.06v3.5M319.03 388.10v3.5M319.62 388.38v3.5M320.82 388.95v3.5M320.91 388.99v3.5M322.84 389.90v3.5M323.67 390.29v3.5M323.89 390.48v3.5M324.05 390.71v3.5M324.49 391.35v3.5M341.80 409.40v4M342.60 442.30v4" stroke="#f7941d" stroke-width="1.1"/>
<path d="M200.93 347.85v3.5M201.31 347.85v3.5M201.37 347.85v3.5M201.74 347.85v3.5M206.80 348.40v3.5M207.44 348.55v3.5M209.97 349.60v3.5M211.04 350.04v3.5M214.69 351.25v3.5M216.19 351.61v3.5M216.68 351.72v3.5M223.20 351.75v3.5M225.63 351.75v3.5M229.29 352.49v3.5M234.47 355.76v3.5M243.78 358.72v3.5M243.83 358.77v3.5M245.14 359.75v3.5M245.65 359.75v3.5M247.84 359.75v3.5M254.31 359.82v3.5M259.36 362.19v3.5M259.47 362.19v3.5M260.10 362.21v3.5M265.45 362.36v3.5M269.01 362.47v3.5M270.58 362.51v3.5M272.60 362.57v3.5M273.14 362.58v3.5M278.99 364.15v3.5M280.55 364.15v3.5M287.02 364.15v3.5M289.98 364.15v3.5M290.23 364.15v3.5M291.48 364.15v3.5M292.24 364.15v3.5M299.28 364.15v3.5M302.06 364.15v3.5M302.20 364.15v3.5M302.79 364.15v3.5M304.19 365.07v3.5M306.17 367.48v3.5M308.87 371.18v3.5M310.40 372.99v3.5M311.77 374.19v3.5M311.79 374.21v3.5M314.50 376.28v3.5M315.78 376.92v3.5M315.84 376.95v3.5M317.77 377.89v3.5M331.24 378.25v3.5M331.38 378.25v3.5M331.88 378.25v3.5M335.36 378.25v3.5M336.36 378.25v3.5M337.36 378.25v3.5M339.53 378.25v3.5M340.49 378.25v3.5M325.00 377.60v4M330.00 377.60v4M334.00 377.60v4M340.00 377.60v4" stroke="#177a5c" stroke-width="1.1"/>
<path d="M193.80 348.60h3.6M195.60 346.80v3.6" stroke="#f7941d" stroke-width="1.2"/>
<path d="M200.40 347.80h3.6M202.20 346.00v3.6" stroke="#177a5c" stroke-width="1.2"/>
<rect x="0" y="0" width="520" height="1" fill="#000"/>
<rect x="0" y="1" width="520" height="1" fill="#000" opacity="0.15"/>
<rect x="0" y="593" width="520" height="1" fill="#000"/>
<rect x="0" y="592" width="520" height="1" fill="#000" opacity="0.5"/>
<rect x="0" y="0" width="1" height="594" fill="#000"/>
<rect x="1" y="0" width="1" height="594" fill="#000" opacity="0.5"/>
<rect x="519" y="0" width="1" height="594" fill="#000"/>
<rect x="518" y="0" width="1" height="594" fill="#000" opacity="0.5"/>
</g></svg>
</body></html>
